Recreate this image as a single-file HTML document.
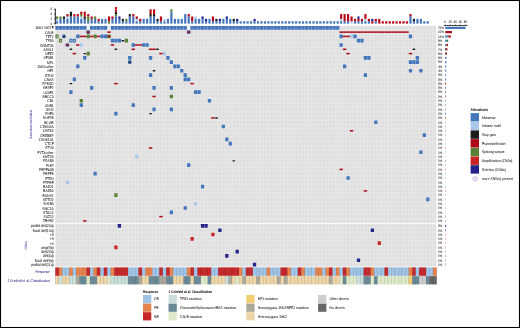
<!DOCTYPE html><html><head><meta charset="utf-8"><style>html,body{margin:0;padding:0;background:#fff;}svg{display:block;will-change:transform;font-family:"Liberation Sans",sans-serif;}</style></head><body><svg width="520" height="328" viewBox="0 0 520 328" text-rendering="geometricPrecision"><rect x="0" y="0" width="520" height="328" fill="#fff"/><defs><pattern id="gp" x="55.3" y="25.7" width="3.465" height="4.29" patternUnits="userSpaceOnUse"><rect width="3.465" height="4.29" fill="#ebebeb"/><rect x="0.4" y="0.4" width="2.67" height="3.49" fill="#dedede"/></pattern><pattern id="gp2" x="55.3" y="26.45" width="3.465" height="4.29" patternUnits="userSpaceOnUse"><rect width="3.465" height="4.29" fill="#ebebeb"/><rect x="0.4" y="0.4" width="2.67" height="3.49" fill="#dedede"/></pattern><pattern id="rp" x="55.3" y="0" width="3.465" height="20" patternUnits="userSpaceOnUse"><rect width="3.465" height="20" fill="#fff" fill-opacity="0.25"/><rect x="0.2" width="3.06" height="20" fill="#000" fill-opacity="0"/></pattern></defs><rect x="55.3" y="25.7" width="381.15" height="197.34" fill="url(#gp)"/><rect x="55.3" y="223.79" width="381.15" height="42.9" fill="url(#gp2)"/><rect x="86.69" y="25.9" width="3.06" height="3.89" fill="#f0f0f0"/><rect x="107.47" y="25.9" width="3.06" height="3.89" fill="#f0f0f0"/><rect x="187.17" y="25.9" width="3.06" height="3.89" fill="#f0f0f0"/><rect x="55.4" y="26" width="3.26" height="3.69" rx="0.15" fill="#4376bb"/><rect x="58.87" y="26" width="3.26" height="3.69" rx="0.15" fill="#4376bb"/><rect x="62.33" y="26" width="3.26" height="3.69" rx="0.15" fill="#4376bb"/><rect x="65.79" y="26" width="3.26" height="3.69" rx="0.15" fill="#4376bb"/><rect x="69.26" y="26" width="3.26" height="3.69" rx="0.15" fill="#4376bb"/><rect x="72.72" y="26" width="3.26" height="3.69" rx="0.15" fill="#4376bb"/><rect x="76.19" y="26" width="3.26" height="3.69" rx="0.15" fill="#4376bb"/><rect x="79.65" y="26" width="3.26" height="3.69" rx="0.15" fill="#4376bb"/><rect x="83.12" y="26" width="3.26" height="3.69" rx="0.15" fill="#4376bb"/><rect x="90.05" y="26" width="3.26" height="3.69" rx="0.15" fill="#4376bb"/><rect x="93.51" y="26" width="3.26" height="3.69" rx="0.15" fill="#4376bb"/><rect x="96.98" y="26" width="3.26" height="3.69" rx="0.15" fill="#4376bb"/><rect x="100.44" y="26" width="3.26" height="3.69" rx="0.15" fill="#4376bb"/><rect x="103.91" y="26" width="3.26" height="3.69" rx="0.15" fill="#4376bb"/><rect x="110.84" y="26" width="3.26" height="3.69" rx="0.15" fill="#4376bb"/><rect x="114.3" y="26" width="3.26" height="3.69" rx="0.15" fill="#4376bb"/><rect x="117.77" y="26" width="3.26" height="3.69" rx="0.15" fill="#4376bb"/><rect x="121.23" y="26" width="3.26" height="3.69" rx="0.15" fill="#4376bb"/><rect x="124.7" y="26" width="3.26" height="3.69" rx="0.15" fill="#4376bb"/><rect x="128.16" y="26" width="3.26" height="3.69" rx="0.15" fill="#4376bb"/><rect x="131.63" y="26" width="3.26" height="3.69" rx="0.15" fill="#4376bb"/><rect x="135.09" y="26" width="3.26" height="3.69" rx="0.15" fill="#4376bb"/><rect x="138.56" y="26" width="3.26" height="3.69" rx="0.15" fill="#4376bb"/><rect x="142.03" y="26" width="3.26" height="3.69" rx="0.15" fill="#4376bb"/><rect x="145.49" y="26" width="3.26" height="3.69" rx="0.15" fill="#4376bb"/><rect x="148.95" y="26" width="3.26" height="3.69" rx="0.15" fill="#4376bb"/><rect x="152.42" y="26" width="3.26" height="3.69" rx="0.15" fill="#4376bb"/><rect x="155.88" y="26" width="3.26" height="3.69" rx="0.15" fill="#4376bb"/><rect x="159.35" y="26" width="3.26" height="3.69" rx="0.15" fill="#4376bb"/><rect x="162.81" y="26" width="3.26" height="3.69" rx="0.15" fill="#4376bb"/><rect x="166.28" y="26" width="3.26" height="3.69" rx="0.15" fill="#4376bb"/><rect x="169.74" y="26" width="3.26" height="3.69" rx="0.15" fill="#4376bb"/><rect x="173.21" y="26" width="3.26" height="3.69" rx="0.15" fill="#4376bb"/><rect x="176.67" y="26" width="3.26" height="3.69" rx="0.15" fill="#4376bb"/><rect x="180.14" y="26" width="3.26" height="3.69" rx="0.15" fill="#4376bb"/><rect x="183.6" y="26" width="3.26" height="3.69" rx="0.15" fill="#4376bb"/><rect x="190.53" y="26" width="3.26" height="3.69" rx="0.15" fill="#4376bb"/><rect x="194" y="26" width="3.26" height="3.69" rx="0.15" fill="#4376bb"/><rect x="197.47" y="26" width="3.26" height="3.69" rx="0.15" fill="#4376bb"/><rect x="200.93" y="26" width="3.26" height="3.69" rx="0.15" fill="#4376bb"/><rect x="204.4" y="26" width="3.26" height="3.69" rx="0.15" fill="#4376bb"/><rect x="207.86" y="26" width="3.26" height="3.69" rx="0.15" fill="#4376bb"/><rect x="211.32" y="26" width="3.26" height="3.69" rx="0.15" fill="#4376bb"/><rect x="214.79" y="26" width="3.26" height="3.69" rx="0.15" fill="#4376bb"/><rect x="218.25" y="26" width="3.26" height="3.69" rx="0.15" fill="#4376bb"/><rect x="221.72" y="26" width="3.26" height="3.69" rx="0.15" fill="#4376bb"/><rect x="225.18" y="26" width="3.26" height="3.69" rx="0.15" fill="#4376bb"/><rect x="228.65" y="26" width="3.26" height="3.69" rx="0.15" fill="#4376bb"/><rect x="232.11" y="26" width="3.26" height="3.69" rx="0.15" fill="#4376bb"/><rect x="235.58" y="26" width="3.26" height="3.69" rx="0.15" fill="#4376bb"/><rect x="239.04" y="26" width="3.26" height="3.69" rx="0.15" fill="#4376bb"/><rect x="242.51" y="26" width="3.26" height="3.69" rx="0.15" fill="#4376bb"/><rect x="245.97" y="26" width="3.26" height="3.69" rx="0.15" fill="#4376bb"/><rect x="249.44" y="26" width="3.26" height="3.69" rx="0.15" fill="#4376bb"/><rect x="252.91" y="26" width="3.26" height="3.69" rx="0.15" fill="#4376bb"/><rect x="256.37" y="26" width="3.26" height="3.69" rx="0.15" fill="#4376bb"/><rect x="259.84" y="26" width="3.26" height="3.69" rx="0.15" fill="#4376bb"/><rect x="263.3" y="26" width="3.26" height="3.69" rx="0.15" fill="#4376bb"/><rect x="266.76" y="26" width="3.26" height="3.69" rx="0.15" fill="#4376bb"/><rect x="270.23" y="26" width="3.26" height="3.69" rx="0.15" fill="#4376bb"/><rect x="273.69" y="26" width="3.26" height="3.69" rx="0.15" fill="#4376bb"/><rect x="277.16" y="26" width="3.26" height="3.69" rx="0.15" fill="#4376bb"/><rect x="280.62" y="26" width="3.26" height="3.69" rx="0.15" fill="#4376bb"/><rect x="284.09" y="26" width="3.26" height="3.69" rx="0.15" fill="#4376bb"/><rect x="287.56" y="26" width="3.26" height="3.69" rx="0.15" fill="#4376bb"/><rect x="291.02" y="26" width="3.26" height="3.69" rx="0.15" fill="#4376bb"/><rect x="294.49" y="26" width="3.26" height="3.69" rx="0.15" fill="#4376bb"/><rect x="297.95" y="26" width="3.26" height="3.69" rx="0.15" fill="#4376bb"/><rect x="301.42" y="26" width="3.26" height="3.69" rx="0.15" fill="#4376bb"/><rect x="304.88" y="26" width="3.26" height="3.69" rx="0.15" fill="#4376bb"/><rect x="308.35" y="26" width="3.26" height="3.69" rx="0.15" fill="#4376bb"/><rect x="311.81" y="26" width="3.26" height="3.69" rx="0.15" fill="#4376bb"/><rect x="315.28" y="26" width="3.26" height="3.69" rx="0.15" fill="#4376bb"/><rect x="318.74" y="26" width="3.26" height="3.69" rx="0.15" fill="#4376bb"/><rect x="322.21" y="26" width="3.26" height="3.69" rx="0.15" fill="#4376bb"/><rect x="325.67" y="26" width="3.26" height="3.69" rx="0.15" fill="#4376bb"/><rect x="329.14" y="26" width="3.26" height="3.69" rx="0.15" fill="#4376bb"/><rect x="332.6" y="26" width="3.26" height="3.69" rx="0.15" fill="#4376bb"/><rect x="336.06" y="26" width="3.26" height="3.69" rx="0.15" fill="#4376bb"/><rect x="86.58" y="30.29" width="3.26" height="3.69" rx="0.15" fill="#4376bb"/><rect x="86.48" y="31.38" width="3.46" height="1.5" fill="#ad0a18"/><rect x="107.27" y="31.38" width="3.46" height="1.5" fill="#ad0a18"/><rect x="187.07" y="30.29" width="3.26" height="3.69" rx="0.15" fill="#4376bb"/><rect x="186.97" y="31.38" width="3.46" height="1.5" fill="#ad0a18"/><rect x="339.43" y="31.38" width="3.46" height="1.5" fill="#ad0a18"/><rect x="342.89" y="31.38" width="3.46" height="1.5" fill="#ad0a18"/><rect x="346.36" y="31.38" width="3.46" height="1.5" fill="#ad0a18"/><rect x="349.82" y="31.38" width="3.46" height="1.5" fill="#ad0a18"/><rect x="353.29" y="31.38" width="3.46" height="1.5" fill="#ad0a18"/><rect x="356.75" y="31.38" width="3.46" height="1.5" fill="#ad0a18"/><rect x="360.22" y="31.38" width="3.46" height="1.5" fill="#ad0a18"/><rect x="363.69" y="31.38" width="3.46" height="1.5" fill="#ad0a18"/><rect x="367.15" y="31.38" width="3.46" height="1.5" fill="#ad0a18"/><rect x="370.62" y="31.38" width="3.46" height="1.5" fill="#ad0a18"/><rect x="374.08" y="31.38" width="3.46" height="1.5" fill="#ad0a18"/><rect x="377.55" y="31.38" width="3.46" height="1.5" fill="#ad0a18"/><rect x="381.01" y="31.38" width="3.46" height="1.5" fill="#ad0a18"/><rect x="384.48" y="31.38" width="3.46" height="1.5" fill="#ad0a18"/><rect x="387.94" y="31.38" width="3.46" height="1.5" fill="#ad0a18"/><rect x="391.4" y="31.38" width="3.46" height="1.5" fill="#ad0a18"/><rect x="394.87" y="31.38" width="3.46" height="1.5" fill="#ad0a18"/><rect x="398.33" y="31.38" width="3.46" height="1.5" fill="#ad0a18"/><rect x="401.8" y="31.38" width="3.46" height="1.5" fill="#ad0a18"/><rect x="405.26" y="31.38" width="3.46" height="1.5" fill="#ad0a18"/><rect x="55.4" y="34.58" width="3.26" height="3.69" rx="0.15" fill="#5b7f34"/><circle cx="57.03" cy="36.43" r="0.75" fill="#cfc8d8"/><rect x="62.33" y="34.58" width="3.26" height="3.69" rx="0.15" fill="#4376bb"/><rect x="62.53" y="35.73" width="2.86" height="1.4" rx="0.7" fill="#1c1c1c"/><rect x="76.19" y="34.58" width="3.26" height="3.69" rx="0.15" fill="#4376bb"/><rect x="79.55" y="35.68" width="3.46" height="1.5" fill="#ad0a18"/><rect x="83.02" y="35.68" width="3.46" height="1.5" fill="#ad0a18"/><rect x="86.58" y="34.58" width="3.26" height="3.69" rx="0.15" fill="#5b7f34"/><rect x="89.95" y="35.68" width="3.46" height="1.5" fill="#ad0a18"/><rect x="93.51" y="34.58" width="3.26" height="3.69" rx="0.15" fill="#5b7f34"/><rect x="96.88" y="35.68" width="3.46" height="1.5" fill="#ad0a18"/><rect x="100.44" y="34.58" width="3.26" height="3.69" rx="0.15" fill="#4376bb"/><rect x="103.91" y="34.58" width="3.26" height="3.69" rx="0.15" fill="#4376bb"/><rect x="107.37" y="34.58" width="3.26" height="3.69" rx="0.15" fill="#5b7f34"/><rect x="107.27" y="35.68" width="3.46" height="1.5" fill="#ad0a18"/><rect x="339.53" y="34.58" width="3.26" height="3.69" rx="0.15" fill="#4376bb"/><rect x="342.89" y="35.68" width="3.46" height="1.5" fill="#ad0a18"/><rect x="346.36" y="35.68" width="3.46" height="1.5" fill="#ad0a18"/><rect x="349.93" y="34.58" width="3.26" height="3.69" rx="0.15" fill="#a9c7e8"/><rect x="353.39" y="34.58" width="3.26" height="3.69" rx="0.15" fill="#4376bb"/><rect x="408.83" y="34.58" width="3.26" height="3.69" rx="0.15" fill="#4376bb"/><rect x="58.87" y="38.87" width="3.26" height="3.69" rx="0.15" fill="#5b7f34"/><circle cx="60.5" cy="40.72" r="0.75" fill="#cfc8d8"/><rect x="69.26" y="38.87" width="3.26" height="3.69" rx="0.15" fill="#4376bb"/><circle cx="70.89" cy="40.72" r="0.75" fill="#cfc8d8"/><rect x="72.72" y="38.87" width="3.26" height="3.69" rx="0.15" fill="#4376bb"/><circle cx="74.36" cy="40.72" r="0.75" fill="#cfc8d8"/><rect x="110.84" y="38.87" width="3.26" height="3.69" rx="0.15" fill="#4376bb"/><rect x="114.3" y="38.87" width="3.26" height="3.69" rx="0.15" fill="#4376bb"/><rect x="117.77" y="38.87" width="3.26" height="3.69" rx="0.15" fill="#4376bb"/><rect x="121.43" y="40.02" width="2.86" height="1.4" rx="0.7" fill="#1c1c1c"/><rect x="124.7" y="38.87" width="3.26" height="3.69" rx="0.15" fill="#5b7f34"/><rect x="356.86" y="38.87" width="3.26" height="3.69" rx="0.15" fill="#4376bb"/><rect x="360.32" y="38.87" width="3.26" height="3.69" rx="0.15" fill="#4376bb"/><rect x="65.79" y="43.16" width="3.26" height="3.69" rx="0.15" fill="#4376bb"/><rect x="65.69" y="44.26" width="3.46" height="1.5" fill="#ad0a18"/><rect x="76.09" y="44.26" width="3.46" height="1.5" fill="#ad0a18"/><rect x="79.65" y="43.16" width="3.26" height="3.69" rx="0.15" fill="#a9c7e8"/><rect x="110.74" y="44.26" width="3.46" height="1.5" fill="#ad0a18"/><rect x="131.63" y="43.16" width="3.26" height="3.69" rx="0.15" fill="#4376bb"/><rect x="135" y="44.26" width="3.46" height="1.5" fill="#ad0a18"/><rect x="138.46" y="44.26" width="3.46" height="1.5" fill="#ad0a18"/><rect x="142.03" y="43.16" width="3.26" height="3.69" rx="0.15" fill="#4376bb"/><rect x="145.49" y="43.16" width="3.26" height="3.69" rx="0.15" fill="#4376bb"/><rect x="339.53" y="43.16" width="3.26" height="3.69" rx="0.15" fill="#4376bb"/><rect x="69.46" y="48.59" width="2.86" height="1.4" rx="0.7" fill="#1c1c1c"/><rect x="114.5" y="48.59" width="2.86" height="1.4" rx="0.7" fill="#1c1c1c"/><rect x="131.53" y="48.55" width="3.46" height="1.5" fill="#ad0a18"/><rect x="148.85" y="48.55" width="3.46" height="1.5" fill="#ad0a18"/><rect x="152.32" y="48.55" width="3.46" height="1.5" fill="#ad0a18"/><rect x="156.09" y="48.59" width="2.86" height="1.4" rx="0.7" fill="#1c1c1c"/><rect x="342.89" y="48.55" width="3.46" height="1.5" fill="#ad0a18"/><rect x="412.5" y="48.59" width="2.86" height="1.4" rx="0.7" fill="#1c1c1c"/><rect x="72.62" y="52.84" width="3.46" height="1.5" fill="#ad0a18"/><rect x="83.32" y="52.88" width="2.86" height="1.4" rx="0.7" fill="#1c1c1c"/><rect x="86.58" y="51.74" width="3.26" height="3.69" rx="0.15" fill="#5b7f34"/><rect x="159.25" y="52.84" width="3.46" height="1.5" fill="#ad0a18"/><rect x="162.81" y="51.74" width="3.26" height="3.69" rx="0.15" fill="#a9c7e8"/><rect x="346.36" y="52.84" width="3.46" height="1.5" fill="#ad0a18"/><rect x="408.73" y="52.84" width="3.46" height="1.5" fill="#ad0a18"/><rect x="83.12" y="56.03" width="3.26" height="3.69" rx="0.15" fill="#4376bb"/><rect x="128.16" y="56.03" width="3.26" height="3.69" rx="0.15" fill="#4376bb"/><rect x="148.95" y="56.03" width="3.26" height="3.69" rx="0.15" fill="#4376bb"/><rect x="166.28" y="56.03" width="3.26" height="3.69" rx="0.15" fill="#4376bb"/><rect x="363.79" y="56.03" width="3.26" height="3.69" rx="0.15" fill="#4376bb"/><rect x="367.25" y="56.03" width="3.26" height="3.69" rx="0.15" fill="#4376bb"/><rect x="415.76" y="56.03" width="3.26" height="3.69" rx="0.15" fill="#4376bb"/><rect x="128.16" y="60.32" width="3.26" height="3.69" rx="0.15" fill="#4376bb"/><rect x="128.37" y="61.46" width="2.86" height="1.4" rx="0.7" fill="#1c1c1c"/><rect x="169.74" y="60.32" width="3.26" height="3.69" rx="0.15" fill="#4376bb"/><rect x="408.83" y="60.32" width="3.26" height="3.69" rx="0.15" fill="#4376bb"/><rect x="412.3" y="60.32" width="3.26" height="3.69" rx="0.15" fill="#4376bb"/><rect x="415.76" y="60.32" width="3.26" height="3.69" rx="0.15" fill="#4376bb"/><rect x="76.19" y="64.61" width="3.26" height="3.69" rx="0.15" fill="#4376bb"/><rect x="173.21" y="64.61" width="3.26" height="3.69" rx="0.15" fill="#4376bb"/><rect x="176.67" y="64.61" width="3.26" height="3.69" rx="0.15" fill="#4376bb"/><rect x="343" y="64.61" width="3.26" height="3.69" rx="0.15" fill="#4376bb"/><rect x="152.62" y="70.04" width="2.86" height="1.4" rx="0.7" fill="#1c1c1c"/><rect x="180.14" y="68.9" width="3.26" height="3.69" rx="0.15" fill="#4376bb"/><rect x="408.83" y="68.9" width="3.26" height="3.69" rx="0.15" fill="#4376bb"/><rect x="419.23" y="68.9" width="3.26" height="3.69" rx="0.15" fill="#4376bb"/><rect x="148.95" y="73.19" width="3.26" height="3.69" rx="0.15" fill="#4376bb"/><rect x="183.6" y="73.19" width="3.26" height="3.69" rx="0.15" fill="#4376bb"/><rect x="363.79" y="73.19" width="3.26" height="3.69" rx="0.15" fill="#4376bb"/><rect x="72.72" y="77.48" width="3.26" height="3.69" rx="0.15" fill="#4376bb"/><rect x="183.6" y="77.48" width="3.26" height="3.69" rx="0.15" fill="#4376bb"/><rect x="187.07" y="77.48" width="3.26" height="3.69" rx="0.15" fill="#4376bb"/><rect x="69.46" y="82.91" width="2.86" height="1.4" rx="0.7" fill="#1c1c1c"/><rect x="114.2" y="82.86" width="3.46" height="1.5" fill="#ad0a18"/><rect x="190.44" y="82.86" width="3.46" height="1.5" fill="#ad0a18"/><rect x="90.05" y="86.06" width="3.26" height="3.69" rx="0.15" fill="#4376bb"/><rect x="152.42" y="86.06" width="3.26" height="3.69" rx="0.15" fill="#4376bb"/><rect x="169.74" y="86.06" width="3.26" height="3.69" rx="0.15" fill="#4376bb"/><rect x="69.26" y="90.35" width="3.26" height="3.69" rx="0.15" fill="#4376bb"/><rect x="194" y="90.35" width="3.26" height="3.69" rx="0.15" fill="#4376bb"/><rect x="197.47" y="90.35" width="3.26" height="3.69" rx="0.15" fill="#4376bb"/><rect x="152.32" y="95.73" width="3.46" height="1.5" fill="#ad0a18"/><rect x="169.74" y="94.64" width="3.26" height="3.69" rx="0.15" fill="#5b7f34"/><rect x="79.65" y="98.93" width="3.26" height="3.69" rx="0.15" fill="#5b7f34"/><rect x="207.86" y="98.93" width="3.26" height="3.69" rx="0.15" fill="#4376bb"/><rect x="79.65" y="103.22" width="3.26" height="3.69" rx="0.15" fill="#4376bb"/><rect x="131.63" y="103.22" width="3.26" height="3.69" rx="0.15" fill="#4376bb"/><rect x="152.42" y="107.51" width="3.26" height="3.69" rx="0.15" fill="#4376bb"/><rect x="169.74" y="107.51" width="3.26" height="3.69" rx="0.15" fill="#4376bb"/><rect x="114.3" y="111.8" width="3.26" height="3.69" rx="0.15" fill="#4376bb"/><rect x="149.16" y="112.94" width="2.86" height="1.4" rx="0.7" fill="#1c1c1c"/><rect x="211.22" y="117.19" width="3.46" height="1.5" fill="#ad0a18"/><rect x="214.99" y="117.23" width="2.86" height="1.4" rx="0.7" fill="#1c1c1c"/><rect x="374.18" y="120.38" width="3.26" height="3.69" rx="0.15" fill="#4376bb"/><rect x="221.72" y="124.67" width="3.26" height="3.69" rx="0.15" fill="#4376bb"/><rect x="349.82" y="130.06" width="3.46" height="1.5" fill="#ad0a18"/><rect x="422.69" y="133.25" width="3.26" height="3.69" rx="0.15" fill="#4376bb"/><rect x="225.18" y="137.54" width="3.26" height="3.69" rx="0.15" fill="#4376bb"/><rect x="228.65" y="141.83" width="3.26" height="3.69" rx="0.15" fill="#4376bb"/><rect x="148.85" y="147.22" width="3.46" height="1.5" fill="#ad0a18"/><rect x="419.23" y="150.41" width="3.26" height="3.69" rx="0.15" fill="#4376bb"/><rect x="135.09" y="154.7" width="3.26" height="3.69" rx="0.15" fill="#a9c7e8"/><rect x="232.31" y="160.14" width="2.86" height="1.4" rx="0.7" fill="#1c1c1c"/><rect x="187.07" y="163.28" width="3.26" height="3.69" rx="0.15" fill="#4376bb"/><rect x="339.43" y="168.66" width="3.46" height="1.5" fill="#ad0a18"/><rect x="93.51" y="171.86" width="3.26" height="3.69" rx="0.15" fill="#4376bb"/><rect x="346.46" y="176.15" width="3.26" height="3.69" rx="0.15" fill="#4376bb"/><rect x="65.79" y="180.44" width="3.26" height="3.69" rx="0.15" fill="#a9c7e8"/><rect x="200.93" y="184.73" width="3.26" height="3.69" rx="0.15" fill="#4376bb"/><rect x="363.69" y="190.12" width="3.46" height="1.5" fill="#ad0a18"/><rect x="114.3" y="193.31" width="3.26" height="3.69" rx="0.15" fill="#5b7f34"/><rect x="426.16" y="197.6" width="3.26" height="3.69" rx="0.15" fill="#4376bb"/><rect x="194" y="201.89" width="3.26" height="3.69" rx="0.15" fill="#a9c7e8"/><rect x="183.6" y="206.18" width="3.26" height="3.69" rx="0.15" fill="#4376bb"/><rect x="169.74" y="210.47" width="3.26" height="3.69" rx="0.15" fill="#4376bb"/><rect x="159.25" y="215.85" width="3.46" height="1.5" fill="#ad0a18"/><rect x="83.02" y="220.15" width="3.46" height="1.5" fill="#ad0a18"/><rect x="117.77" y="224.09" width="3.26" height="3.69" rx="0.15" fill="#23238a"/><rect x="200.93" y="224.09" width="3.26" height="3.69" rx="0.15" fill="#23238a"/><rect x="204.4" y="224.09" width="3.26" height="3.69" rx="0.15" fill="#23238a"/><rect x="218.25" y="228.38" width="3.26" height="3.69" rx="0.15" fill="#23238a"/><rect x="370.72" y="228.38" width="3.26" height="3.69" rx="0.15" fill="#23238a"/><rect x="211.32" y="232.67" width="3.26" height="3.69" rx="0.15" fill="#c82424"/><rect x="190.53" y="236.96" width="3.26" height="3.69" rx="0.15" fill="#c82424"/><rect x="377.65" y="241.25" width="3.26" height="3.69" rx="0.15" fill="#c82424"/><rect x="114.3" y="245.54" width="3.26" height="3.69" rx="0.15" fill="#c82424"/><rect x="235.58" y="249.83" width="3.26" height="3.69" rx="0.15" fill="#23238a"/><rect x="225.18" y="254.12" width="3.26" height="3.69" rx="0.15" fill="#23238a"/><rect x="356.86" y="258.41" width="3.26" height="3.69" rx="0.15" fill="#23238a"/><rect x="252.91" y="262.7" width="3.26" height="3.69" rx="0.15" fill="#23238a"/><text transform="translate(53.7,29.34) scale(0.1,0.118)" font-size="33" text-anchor="end" fill="#111" stroke="#111" stroke-width="0.3">JAK2 V617F</text><text transform="translate(53.7,33.63) scale(0.1,0.118)" font-size="33" text-anchor="end" fill="#111" stroke="#111" stroke-width="0.3">CALR</text><text transform="translate(53.7,37.93) scale(0.1,0.118)" font-size="33" text-anchor="end" fill="#111" stroke="#111" stroke-width="0.3">TET2</text><text transform="translate(53.7,42.22) scale(0.1,0.118)" font-size="33" text-anchor="end" fill="#111" stroke="#111" stroke-width="0.3">TP53</text><text transform="translate(53.7,46.51) scale(0.1,0.118)" font-size="33" text-anchor="end" fill="#111" stroke="#111" stroke-width="0.3">DNMT3A</text><text transform="translate(53.7,50.8) scale(0.1,0.118)" font-size="33" text-anchor="end" fill="#111" stroke="#111" stroke-width="0.3">ASXL1</text><text transform="translate(53.7,55.09) scale(0.1,0.118)" font-size="33" text-anchor="end" fill="#111" stroke="#111" stroke-width="0.3">NFE2</text><text transform="translate(53.7,59.38) scale(0.1,0.118)" font-size="33" text-anchor="end" fill="#111" stroke="#111" stroke-width="0.3">SF3B1</text><text transform="translate(53.7,63.66) scale(0.1,0.118)" font-size="33" text-anchor="end" fill="#111" stroke="#111" stroke-width="0.3">MPL</text><text transform="translate(53.7,67.95) scale(0.1,0.118)" font-size="33" text-anchor="end" fill="#111" stroke="#111" stroke-width="0.3">JAK2-other</text><text transform="translate(53.7,72.24) scale(0.1,0.118)" font-size="33" text-anchor="end" fill="#111" stroke="#111" stroke-width="0.3">NF1</text><text transform="translate(53.7,76.53) scale(0.1,0.118)" font-size="33" text-anchor="end" fill="#111" stroke="#111" stroke-width="0.3">EZH2</text><text transform="translate(53.7,80.83) scale(0.1,0.118)" font-size="33" text-anchor="end" fill="#111" stroke="#111" stroke-width="0.3">GNAS</text><text transform="translate(53.7,85.11) scale(0.1,0.118)" font-size="33" text-anchor="end" fill="#111" stroke="#111" stroke-width="0.3">PPM1D</text><text transform="translate(53.7,89.41) scale(0.1,0.118)" font-size="33" text-anchor="end" fill="#111" stroke="#111" stroke-width="0.3">SRSF2</text><text transform="translate(53.7,93.69) scale(0.1,0.118)" font-size="33" text-anchor="end" fill="#111" stroke="#111" stroke-width="0.3">U2AF1</text><text transform="translate(53.7,97.98) scale(0.1,0.118)" font-size="33" text-anchor="end" fill="#111" stroke="#111" stroke-width="0.3">BRCC3</text><text transform="translate(53.7,102.28) scale(0.1,0.118)" font-size="33" text-anchor="end" fill="#111" stroke="#111" stroke-width="0.3">CBL</text><text transform="translate(53.7,106.56) scale(0.1,0.118)" font-size="33" text-anchor="end" fill="#111" stroke="#111" stroke-width="0.3">GNB1</text><text transform="translate(53.7,110.86) scale(0.1,0.118)" font-size="33" text-anchor="end" fill="#111" stroke="#111" stroke-width="0.3">IDH2</text><text transform="translate(53.7,115.14) scale(0.1,0.118)" font-size="33" text-anchor="end" fill="#111" stroke="#111" stroke-width="0.3">PHF6</text><text transform="translate(53.7,119.44) scale(0.1,0.118)" font-size="33" text-anchor="end" fill="#111" stroke="#111" stroke-width="0.3">NUP98</text><text transform="translate(53.7,123.72) scale(0.1,0.118)" font-size="33" text-anchor="end" fill="#111" stroke="#111" stroke-width="0.3">BCOR</text><text transform="translate(53.7,128.01) scale(0.1,0.118)" font-size="33" text-anchor="end" fill="#111" stroke="#111" stroke-width="0.3">CDKN2A</text><text transform="translate(53.7,132.31) scale(0.1,0.118)" font-size="33" text-anchor="end" fill="#111" stroke="#111" stroke-width="0.3">CHEK2</text><text transform="translate(53.7,136.59) scale(0.1,0.118)" font-size="33" text-anchor="end" fill="#111" stroke="#111" stroke-width="0.3">CREBBP</text><text transform="translate(53.7,140.89) scale(0.1,0.118)" font-size="33" text-anchor="end" fill="#111" stroke="#111" stroke-width="0.3">CSNK1A1</text><text transform="translate(53.7,145.18) scale(0.1,0.118)" font-size="33" text-anchor="end" fill="#111" stroke="#111" stroke-width="0.3">CTCF</text><text transform="translate(53.7,149.47) scale(0.1,0.118)" font-size="33" text-anchor="end" fill="#111" stroke="#111" stroke-width="0.3">ETV6</text><text transform="translate(53.7,153.75) scale(0.1,0.118)" font-size="33" text-anchor="end" fill="#111" stroke="#111" stroke-width="0.3">FLT3-other</text><text transform="translate(53.7,158.04) scale(0.1,0.118)" font-size="33" text-anchor="end" fill="#111" stroke="#111" stroke-width="0.3">KMT2A</text><text transform="translate(53.7,162.34) scale(0.1,0.118)" font-size="33" text-anchor="end" fill="#111" stroke="#111" stroke-width="0.3">PDS5B</text><text transform="translate(53.7,166.62) scale(0.1,0.118)" font-size="33" text-anchor="end" fill="#111" stroke="#111" stroke-width="0.3">PHIP</text><text transform="translate(53.7,170.91) scale(0.1,0.118)" font-size="33" text-anchor="end" fill="#111" stroke="#111" stroke-width="0.3">PRPF40B</text><text transform="translate(53.7,175.21) scale(0.1,0.118)" font-size="33" text-anchor="end" fill="#111" stroke="#111" stroke-width="0.3">PRPF8</text><text transform="translate(53.7,179.5) scale(0.1,0.118)" font-size="33" text-anchor="end" fill="#111" stroke="#111" stroke-width="0.3">PTEN</text><text transform="translate(53.7,183.78) scale(0.1,0.118)" font-size="33" text-anchor="end" fill="#111" stroke="#111" stroke-width="0.3">PTPRF</text><text transform="translate(53.7,188.07) scale(0.1,0.118)" font-size="33" text-anchor="end" fill="#111" stroke="#111" stroke-width="0.3">RAD21</text><text transform="translate(53.7,192.37) scale(0.1,0.118)" font-size="33" text-anchor="end" fill="#111" stroke="#111" stroke-width="0.3">RAD50</text><text transform="translate(53.7,196.66) scale(0.1,0.118)" font-size="33" text-anchor="end" fill="#111" stroke="#111" stroke-width="0.3">RUNX1</text><text transform="translate(53.7,200.94) scale(0.1,0.118)" font-size="33" text-anchor="end" fill="#111" stroke="#111" stroke-width="0.3">SETD2</text><text transform="translate(53.7,205.24) scale(0.1,0.118)" font-size="33" text-anchor="end" fill="#111" stroke="#111" stroke-width="0.3">SH2B3</text><text transform="translate(53.7,209.53) scale(0.1,0.118)" font-size="33" text-anchor="end" fill="#111" stroke="#111" stroke-width="0.3">SMC1A</text><text transform="translate(53.7,213.81) scale(0.1,0.118)" font-size="33" text-anchor="end" fill="#111" stroke="#111" stroke-width="0.3">STAG2</text><text transform="translate(53.7,218.1) scale(0.1,0.118)" font-size="33" text-anchor="end" fill="#111" stroke="#111" stroke-width="0.3">SUZ12</text><text transform="translate(53.7,222.4) scale(0.1,0.118)" font-size="33" text-anchor="end" fill="#111" stroke="#111" stroke-width="0.3">ZRSR2</text><text transform="translate(53.7,227.44) scale(0.1,0.118)" font-size="34.2" text-anchor="end" fill="#111" stroke="#111" stroke-width="0.3">partial del(20q)</text><text transform="translate(53.7,231.72) scale(0.1,0.118)" font-size="34.2" text-anchor="end" fill="#111" stroke="#111" stroke-width="0.3">focal del(13q)</text><text transform="translate(53.7,236.02) scale(0.1,0.118)" font-size="34.2" text-anchor="end" fill="#111" stroke="#111" stroke-width="0.3">+8</text><text transform="translate(53.7,240.31) scale(0.1,0.118)" font-size="34.2" text-anchor="end" fill="#111" stroke="#111" stroke-width="0.3">+9</text><text transform="translate(53.7,244.59) scale(0.1,0.118)" font-size="34.2" text-anchor="end" fill="#111" stroke="#111" stroke-width="0.3">+X</text><text transform="translate(53.7,248.88) scale(0.1,0.118)" font-size="34.2" text-anchor="end" fill="#111" stroke="#111" stroke-width="0.3">amp(9p)</text><text transform="translate(53.7,253.18) scale(0.1,0.118)" font-size="34.2" text-anchor="end" fill="#111" stroke="#111" stroke-width="0.3">del(20q)</text><text transform="translate(53.7,257.47) scale(0.1,0.118)" font-size="34.2" text-anchor="end" fill="#111" stroke="#111" stroke-width="0.3">del(5q)</text><text transform="translate(53.7,261.75) scale(0.1,0.118)" font-size="34.2" text-anchor="end" fill="#111" stroke="#111" stroke-width="0.3">focal del(9p)</text><text transform="translate(53.7,266.04) scale(0.1,0.118)" font-size="34.2" text-anchor="end" fill="#111" stroke="#111" stroke-width="0.3">partial del(11q)</text><text transform="translate(437.9,29.14) scale(0.1,0.118)" font-size="31" fill="#111" stroke="#111" stroke-width="0.3">72%</text><rect x="445.2" y="26.74" width="20.41" height="2.2" fill="#4376bb"/><text transform="translate(437.9,33.43) scale(0.1,0.118)" font-size="31" fill="#111" stroke="#111" stroke-width="0.3">21%</text><rect x="445.2" y="31.03" width="0.25" height="2.2" fill="#23238a"/><rect x="445.45" y="31.03" width="6.55" height="2.2" fill="#ad0a18"/><text transform="translate(437.9,37.73) scale(0.1,0.118)" font-size="31" fill="#111" stroke="#111" stroke-width="0.3">14%</text><rect x="445.2" y="35.33" width="2.27" height="2.2" fill="#4376bb"/><rect x="447.47" y="35.33" width="1.01" height="2.2" fill="#5b7f34"/><rect x="448.48" y="35.33" width="2.27" height="2.2" fill="#ad0a18"/><text transform="translate(437.9,42.02) scale(0.1,0.118)" font-size="31" fill="#111" stroke="#111" stroke-width="0.3">9%</text><rect x="445.2" y="39.62" width="1.76" height="2.2" fill="#4376bb"/><rect x="446.96" y="39.62" width="1.26" height="2.2" fill="#5b7f34"/><text transform="translate(437.9,46.3) scale(0.1,0.118)" font-size="31" fill="#111" stroke="#111" stroke-width="0.3">9%</text><rect x="445.2" y="43.91" width="1.26" height="2.2" fill="#4376bb"/><rect x="446.46" y="43.91" width="1.51" height="2.2" fill="#ad0a18"/><text transform="translate(437.9,50.59) scale(0.1,0.118)" font-size="31" fill="#111" stroke="#111" stroke-width="0.3">7%</text><rect x="445.2" y="48.2" width="1.01" height="2.2" fill="#1c1c1c"/><rect x="446.21" y="48.2" width="1.26" height="2.2" fill="#ad0a18"/><text transform="translate(437.9,54.88) scale(0.1,0.118)" font-size="31" fill="#111" stroke="#111" stroke-width="0.3">6%</text><rect x="445.2" y="52.48" width="1.01" height="2.2" fill="#ad0a18"/><rect x="446.21" y="52.48" width="0.76" height="2.2" fill="#1c1c1c"/><text transform="translate(437.9,59.18) scale(0.1,0.118)" font-size="31" fill="#111" stroke="#111" stroke-width="0.3">6%</text><rect x="445.2" y="56.78" width="1.26" height="2.2" fill="#4376bb"/><text transform="translate(437.9,63.46) scale(0.1,0.118)" font-size="31" fill="#111" stroke="#111" stroke-width="0.3">5%</text><rect x="445.2" y="61.06" width="1.26" height="2.2" fill="#4376bb"/><text transform="translate(437.9,67.75) scale(0.1,0.118)" font-size="31" fill="#111" stroke="#111" stroke-width="0.3">4%</text><rect x="445.2" y="65.36" width="1.01" height="2.2" fill="#4376bb"/><text transform="translate(437.9,72.04) scale(0.1,0.118)" font-size="31" fill="#111" stroke="#111" stroke-width="0.3">4%</text><rect x="445.2" y="69.64" width="1.01" height="2.2" fill="#4376bb"/><text transform="translate(437.9,76.33) scale(0.1,0.118)" font-size="31" fill="#111" stroke="#111" stroke-width="0.3">3%</text><rect x="445.2" y="73.94" width="0.76" height="2.2" fill="#4376bb"/><text transform="translate(437.9,80.62) scale(0.1,0.118)" font-size="31" fill="#111" stroke="#111" stroke-width="0.3">3%</text><rect x="445.2" y="78.23" width="0.76" height="2.2" fill="#4376bb"/><text transform="translate(437.9,84.91) scale(0.1,0.118)" font-size="31" fill="#111" stroke="#111" stroke-width="0.3">3%</text><rect x="445.2" y="82.52" width="0.76" height="2.2" fill="#ad0a18"/><text transform="translate(437.9,89.2) scale(0.1,0.118)" font-size="31" fill="#111" stroke="#111" stroke-width="0.3">3%</text><rect x="445.2" y="86.81" width="0.76" height="2.2" fill="#4376bb"/><text transform="translate(437.9,93.49) scale(0.1,0.118)" font-size="31" fill="#111" stroke="#111" stroke-width="0.3">3%</text><rect x="445.2" y="91.09" width="0.76" height="2.2" fill="#4376bb"/><text transform="translate(437.9,97.78) scale(0.1,0.118)" font-size="31" fill="#111" stroke="#111" stroke-width="0.3">2%</text><rect x="445.2" y="95.39" width="0.5" height="2.2" fill="#ad0a18"/><text transform="translate(437.9,102.08) scale(0.1,0.118)" font-size="31" fill="#111" stroke="#111" stroke-width="0.3">2%</text><rect x="445.2" y="99.68" width="0.5" height="2.2" fill="#5b7f34"/><text transform="translate(437.9,106.36) scale(0.1,0.118)" font-size="31" fill="#111" stroke="#111" stroke-width="0.3">2%</text><rect x="445.2" y="103.97" width="0.5" height="2.2" fill="#4376bb"/><text transform="translate(437.9,110.66) scale(0.1,0.118)" font-size="31" fill="#111" stroke="#111" stroke-width="0.3">2%</text><rect x="445.2" y="108.26" width="0.5" height="2.2" fill="#4376bb"/><text transform="translate(437.9,114.94) scale(0.1,0.118)" font-size="31" fill="#111" stroke="#111" stroke-width="0.3">2%</text><rect x="445.2" y="112.55" width="0.5" height="2.2" fill="#23238a"/><text transform="translate(437.9,119.23) scale(0.1,0.118)" font-size="31" fill="#111" stroke="#111" stroke-width="0.3">2%</text><rect x="445.2" y="116.84" width="0.5" height="2.2" fill="#ad0a18"/><text transform="translate(437.9,123.52) scale(0.1,0.118)" font-size="31" fill="#111" stroke="#111" stroke-width="0.3">1%</text><rect x="445.2" y="121.12" width="0.3" height="2.2" fill="#4376bb"/><text transform="translate(437.9,127.81) scale(0.1,0.118)" font-size="31" fill="#111" stroke="#111" stroke-width="0.3">1%</text><rect x="445.2" y="125.42" width="0.3" height="2.2" fill="#4376bb"/><text transform="translate(437.9,132.11) scale(0.1,0.118)" font-size="31" fill="#111" stroke="#111" stroke-width="0.3">1%</text><rect x="445.2" y="129.71" width="0.3" height="2.2" fill="#ad0a18"/><text transform="translate(437.9,136.4) scale(0.1,0.118)" font-size="31" fill="#111" stroke="#111" stroke-width="0.3">1%</text><rect x="445.2" y="134" width="0.3" height="2.2" fill="#4376bb"/><text transform="translate(437.9,140.69) scale(0.1,0.118)" font-size="31" fill="#111" stroke="#111" stroke-width="0.3">1%</text><rect x="445.2" y="138.29" width="0.3" height="2.2" fill="#4376bb"/><text transform="translate(437.9,144.98) scale(0.1,0.118)" font-size="31" fill="#111" stroke="#111" stroke-width="0.3">1%</text><rect x="445.2" y="142.58" width="0.3" height="2.2" fill="#4376bb"/><text transform="translate(437.9,149.27) scale(0.1,0.118)" font-size="31" fill="#111" stroke="#111" stroke-width="0.3">1%</text><rect x="445.2" y="146.87" width="0.3" height="2.2" fill="#ad0a18"/><text transform="translate(437.9,153.56) scale(0.1,0.118)" font-size="31" fill="#111" stroke="#111" stroke-width="0.3">1%</text><rect x="445.2" y="151.16" width="0.3" height="2.2" fill="#4376bb"/><text transform="translate(437.9,157.84) scale(0.1,0.118)" font-size="31" fill="#111" stroke="#111" stroke-width="0.3">1%</text><rect x="445.2" y="155.44" width="0.3" height="2.2" fill="#a9c7e8"/><text transform="translate(437.9,162.14) scale(0.1,0.118)" font-size="31" fill="#111" stroke="#111" stroke-width="0.3">1%</text><rect x="445.2" y="159.74" width="0.3" height="2.2" fill="#1c1c1c"/><text transform="translate(437.9,166.43) scale(0.1,0.118)" font-size="31" fill="#111" stroke="#111" stroke-width="0.3">1%</text><rect x="445.2" y="164.03" width="0.3" height="2.2" fill="#4376bb"/><text transform="translate(437.9,170.72) scale(0.1,0.118)" font-size="31" fill="#111" stroke="#111" stroke-width="0.3">1%</text><rect x="445.2" y="168.31" width="0.3" height="2.2" fill="#ad0a18"/><text transform="translate(437.9,175.01) scale(0.1,0.118)" font-size="31" fill="#111" stroke="#111" stroke-width="0.3">1%</text><rect x="445.2" y="172.61" width="0.3" height="2.2" fill="#4376bb"/><text transform="translate(437.9,179.3) scale(0.1,0.118)" font-size="31" fill="#111" stroke="#111" stroke-width="0.3">1%</text><rect x="445.2" y="176.9" width="0.3" height="2.2" fill="#4376bb"/><text transform="translate(437.9,183.59) scale(0.1,0.118)" font-size="31" fill="#111" stroke="#111" stroke-width="0.3">1%</text><rect x="445.2" y="181.19" width="0.3" height="2.2" fill="#a9c7e8"/><text transform="translate(437.9,187.88) scale(0.1,0.118)" font-size="31" fill="#111" stroke="#111" stroke-width="0.3">1%</text><rect x="445.2" y="185.47" width="0.3" height="2.2" fill="#4376bb"/><text transform="translate(437.9,192.17) scale(0.1,0.118)" font-size="31" fill="#111" stroke="#111" stroke-width="0.3">1%</text><rect x="445.2" y="189.77" width="0.3" height="2.2" fill="#ad0a18"/><text transform="translate(437.9,196.46) scale(0.1,0.118)" font-size="31" fill="#111" stroke="#111" stroke-width="0.3">1%</text><rect x="445.2" y="194.06" width="0.3" height="2.2" fill="#5b7f34"/><text transform="translate(437.9,200.75) scale(0.1,0.118)" font-size="31" fill="#111" stroke="#111" stroke-width="0.3">1%</text><rect x="445.2" y="198.34" width="0.3" height="2.2" fill="#4376bb"/><text transform="translate(437.9,205.04) scale(0.1,0.118)" font-size="31" fill="#111" stroke="#111" stroke-width="0.3">1%</text><rect x="445.2" y="202.64" width="0.3" height="2.2" fill="#a9c7e8"/><text transform="translate(437.9,209.33) scale(0.1,0.118)" font-size="31" fill="#111" stroke="#111" stroke-width="0.3">1%</text><rect x="445.2" y="206.93" width="0.3" height="2.2" fill="#4376bb"/><text transform="translate(437.9,213.62) scale(0.1,0.118)" font-size="31" fill="#111" stroke="#111" stroke-width="0.3">1%</text><rect x="445.2" y="211.22" width="0.3" height="2.2" fill="#4376bb"/><text transform="translate(437.9,217.91) scale(0.1,0.118)" font-size="31" fill="#111" stroke="#111" stroke-width="0.3">1%</text><rect x="445.2" y="215.5" width="0.3" height="2.2" fill="#ad0a18"/><text transform="translate(437.9,222.2) scale(0.1,0.118)" font-size="31" fill="#111" stroke="#111" stroke-width="0.3">1%</text><rect x="445.2" y="219.8" width="0.3" height="2.2" fill="#ad0a18"/><text transform="translate(437.9,227.24) scale(0.1,0.118)" font-size="31" fill="#111" stroke="#111" stroke-width="0.3">3%</text><rect x="445.2" y="224.84" width="0.76" height="2.2" fill="#23238a"/><text transform="translate(437.9,231.53) scale(0.1,0.118)" font-size="31" fill="#111" stroke="#111" stroke-width="0.3">2%</text><rect x="445.2" y="229.12" width="0.5" height="2.2" fill="#23238a"/><text transform="translate(437.9,235.82) scale(0.1,0.118)" font-size="31" fill="#111" stroke="#111" stroke-width="0.3">1%</text><rect x="445.2" y="233.42" width="0.3" height="2.2" fill="#c82424"/><text transform="translate(437.9,240.11) scale(0.1,0.118)" font-size="31" fill="#111" stroke="#111" stroke-width="0.3">1%</text><rect x="445.2" y="237.71" width="0.3" height="2.2" fill="#c82424"/><text transform="translate(437.9,244.4) scale(0.1,0.118)" font-size="31" fill="#111" stroke="#111" stroke-width="0.3">1%</text><rect x="445.2" y="242" width="0.3" height="2.2" fill="#c82424"/><text transform="translate(437.9,248.69) scale(0.1,0.118)" font-size="31" fill="#111" stroke="#111" stroke-width="0.3">1%</text><rect x="445.2" y="246.28" width="0.3" height="2.2" fill="#c82424"/><text transform="translate(437.9,252.98) scale(0.1,0.118)" font-size="31" fill="#111" stroke="#111" stroke-width="0.3">1%</text><rect x="445.2" y="250.58" width="0.3" height="2.2" fill="#23238a"/><text transform="translate(437.9,257.26) scale(0.1,0.118)" font-size="31" fill="#111" stroke="#111" stroke-width="0.3">1%</text><rect x="445.2" y="254.87" width="0.3" height="2.2" fill="#23238a"/><text transform="translate(437.9,261.56) scale(0.1,0.118)" font-size="31" fill="#111" stroke="#111" stroke-width="0.3">1%</text><rect x="445.2" y="259.15" width="0.3" height="2.2" fill="#23238a"/><text transform="translate(437.9,265.84) scale(0.1,0.118)" font-size="31" fill="#111" stroke="#111" stroke-width="0.3">1%</text><rect x="445.2" y="263.44" width="0.3" height="2.2" fill="#23238a"/><line x1="443.9" y1="25.5" x2="467.6" y2="25.5" stroke="#111" stroke-width="0.75"/><line x1="445.2" y1="25.5" x2="445.2" y2="24.5" stroke="#111" stroke-width="0.6"/><text transform="translate(445.2,22.6) scale(0.1,0.118)" font-size="30" text-anchor="middle" fill="#111" stroke="#111" stroke-width="0.3">0</text><line x1="450.24" y1="25.5" x2="450.24" y2="24.5" stroke="#111" stroke-width="0.6"/><text transform="translate(450.24,22.6) scale(0.1,0.118)" font-size="30" text-anchor="middle" fill="#111" stroke="#111" stroke-width="0.3">20</text><line x1="455.28" y1="25.5" x2="455.28" y2="24.5" stroke="#111" stroke-width="0.6"/><text transform="translate(455.28,22.6) scale(0.1,0.118)" font-size="30" text-anchor="middle" fill="#111" stroke="#111" stroke-width="0.3">40</text><line x1="460.32" y1="25.5" x2="460.32" y2="24.5" stroke="#111" stroke-width="0.6"/><text transform="translate(460.32,22.6) scale(0.1,0.118)" font-size="30" text-anchor="middle" fill="#111" stroke="#111" stroke-width="0.3">60</text><line x1="465.36" y1="25.5" x2="465.36" y2="24.5" stroke="#111" stroke-width="0.6"/><text transform="translate(465.36,22.6) scale(0.1,0.118)" font-size="30" text-anchor="middle" fill="#111" stroke="#111" stroke-width="0.3">80</text><rect x="55.95" y="21.22" width="2.17" height="2.41" fill="#4376bb"/><rect x="55.95" y="18.84" width="2.17" height="2.41" fill="#a9c7e8"/><rect x="55.95" y="16.46" width="2.17" height="2.41" fill="#5b7f34"/><rect x="59.41" y="18.84" width="2.17" height="4.79" fill="#4376bb"/><rect x="59.41" y="16.46" width="2.17" height="2.41" fill="#5b7f34"/><rect x="62.88" y="18.84" width="2.17" height="4.79" fill="#4376bb"/><rect x="62.88" y="16.46" width="2.17" height="2.41" fill="#1c1c1c"/><rect x="66.34" y="18.84" width="2.17" height="4.79" fill="#4376bb"/><rect x="66.34" y="16.46" width="2.17" height="2.41" fill="#a9c7e8"/><rect x="66.34" y="14.08" width="2.17" height="2.41" fill="#b90a17"/><rect x="69.81" y="16.46" width="2.17" height="7.17" fill="#4376bb"/><rect x="69.81" y="11.7" width="2.17" height="4.79" fill="#1c1c1c"/><rect x="73.28" y="16.46" width="2.17" height="7.17" fill="#4376bb"/><rect x="73.28" y="14.08" width="2.17" height="2.41" fill="#b90a17"/><rect x="76.74" y="16.46" width="2.17" height="7.17" fill="#4376bb"/><rect x="76.74" y="14.08" width="2.17" height="2.41" fill="#b90a17"/><rect x="80.2" y="18.84" width="2.17" height="4.79" fill="#4376bb"/><rect x="80.2" y="16.46" width="2.17" height="2.41" fill="#a9c7e8"/><rect x="80.2" y="14.08" width="2.17" height="2.41" fill="#5b7f34"/><rect x="80.2" y="11.7" width="2.17" height="2.41" fill="#b90a17"/><rect x="83.67" y="18.84" width="2.17" height="4.79" fill="#4376bb"/><rect x="83.67" y="16.46" width="2.17" height="2.41" fill="#1c1c1c"/><rect x="83.67" y="11.7" width="2.17" height="4.79" fill="#b90a17"/><rect x="87.14" y="21.22" width="2.17" height="2.41" fill="#4376bb"/><rect x="87.14" y="16.46" width="2.17" height="4.79" fill="#5b7f34"/><rect x="87.14" y="14.08" width="2.17" height="2.41" fill="#b90a17"/><rect x="90.6" y="18.84" width="2.17" height="4.79" fill="#4376bb"/><rect x="90.6" y="16.46" width="2.17" height="2.41" fill="#b90a17"/><rect x="94.06" y="18.84" width="2.17" height="4.79" fill="#4376bb"/><rect x="94.06" y="16.46" width="2.17" height="2.41" fill="#5b7f34"/><rect x="97.53" y="21.22" width="2.17" height="2.41" fill="#4376bb"/><rect x="97.53" y="18.84" width="2.17" height="2.41" fill="#b90a17"/><rect x="101" y="18.84" width="2.17" height="4.79" fill="#4376bb"/><rect x="104.46" y="18.84" width="2.17" height="4.79" fill="#4376bb"/><rect x="107.92" y="21.22" width="2.17" height="2.41" fill="#5b7f34"/><rect x="107.92" y="16.46" width="2.17" height="4.79" fill="#b90a17"/><rect x="111.39" y="18.84" width="2.17" height="4.79" fill="#4376bb"/><rect x="111.39" y="16.46" width="2.17" height="2.41" fill="#b90a17"/><rect x="114.86" y="16.46" width="2.17" height="7.17" fill="#4376bb"/><rect x="114.86" y="14.08" width="2.17" height="2.41" fill="#5b7f34"/><rect x="114.86" y="11.7" width="2.17" height="2.41" fill="#1c1c1c"/><rect x="114.86" y="9.32" width="2.17" height="2.41" fill="#b90a17"/><rect x="114.86" y="6.94" width="2.17" height="2.41" fill="#c82424"/><rect x="118.32" y="18.84" width="2.17" height="4.79" fill="#4376bb"/><rect x="118.32" y="16.46" width="2.17" height="2.41" fill="#23238a"/><rect x="121.78" y="21.22" width="2.17" height="2.41" fill="#4376bb"/><rect x="121.78" y="18.84" width="2.17" height="2.41" fill="#1c1c1c"/><rect x="125.25" y="21.22" width="2.17" height="2.41" fill="#4376bb"/><rect x="125.25" y="18.84" width="2.17" height="2.41" fill="#5b7f34"/><rect x="128.72" y="16.46" width="2.17" height="7.17" fill="#4376bb"/><rect x="128.72" y="14.08" width="2.17" height="2.41" fill="#1c1c1c"/><rect x="132.18" y="16.46" width="2.17" height="7.17" fill="#4376bb"/><rect x="132.18" y="14.08" width="2.17" height="2.41" fill="#b90a17"/><rect x="135.65" y="21.22" width="2.17" height="2.41" fill="#4376bb"/><rect x="135.65" y="18.84" width="2.17" height="2.41" fill="#a9c7e8"/><rect x="135.65" y="16.46" width="2.17" height="2.41" fill="#b90a17"/><rect x="139.11" y="21.22" width="2.17" height="2.41" fill="#4376bb"/><rect x="139.11" y="18.84" width="2.17" height="2.41" fill="#b90a17"/><rect x="142.58" y="18.84" width="2.17" height="4.79" fill="#4376bb"/><rect x="146.04" y="18.84" width="2.17" height="4.79" fill="#4376bb"/><rect x="149.5" y="16.46" width="2.17" height="7.17" fill="#4376bb"/><rect x="149.5" y="14.08" width="2.17" height="2.41" fill="#1c1c1c"/><rect x="149.5" y="9.32" width="2.17" height="4.79" fill="#b90a17"/><rect x="152.97" y="16.46" width="2.17" height="7.17" fill="#4376bb"/><rect x="152.97" y="14.08" width="2.17" height="2.41" fill="#1c1c1c"/><rect x="152.97" y="9.32" width="2.17" height="4.79" fill="#b90a17"/><rect x="156.44" y="21.22" width="2.17" height="2.41" fill="#4376bb"/><rect x="156.44" y="18.84" width="2.17" height="2.41" fill="#1c1c1c"/><rect x="159.9" y="21.22" width="2.17" height="2.41" fill="#4376bb"/><rect x="159.9" y="16.46" width="2.17" height="4.79" fill="#b90a17"/><rect x="163.36" y="21.22" width="2.17" height="2.41" fill="#4376bb"/><rect x="163.36" y="18.84" width="2.17" height="2.41" fill="#a9c7e8"/><rect x="166.83" y="18.84" width="2.17" height="4.79" fill="#4376bb"/><rect x="170.29" y="11.7" width="2.17" height="11.93" fill="#4376bb"/><rect x="170.29" y="9.32" width="2.17" height="2.41" fill="#5b7f34"/><rect x="173.76" y="18.84" width="2.17" height="4.79" fill="#4376bb"/><rect x="177.22" y="18.84" width="2.17" height="4.79" fill="#4376bb"/><rect x="180.69" y="18.84" width="2.17" height="4.79" fill="#4376bb"/><rect x="184.16" y="14.08" width="2.17" height="9.55" fill="#4376bb"/><rect x="187.62" y="16.46" width="2.17" height="7.17" fill="#4376bb"/><rect x="187.62" y="14.08" width="2.17" height="2.41" fill="#b90a17"/><rect x="191.09" y="21.22" width="2.17" height="2.41" fill="#4376bb"/><rect x="191.09" y="16.46" width="2.17" height="4.79" fill="#b90a17"/><rect x="194.55" y="18.84" width="2.17" height="4.79" fill="#4376bb"/><rect x="194.55" y="16.46" width="2.17" height="2.41" fill="#a9c7e8"/><rect x="198.02" y="18.84" width="2.17" height="4.79" fill="#4376bb"/><rect x="201.48" y="18.84" width="2.17" height="4.79" fill="#4376bb"/><rect x="201.48" y="16.46" width="2.17" height="2.41" fill="#23238a"/><rect x="204.95" y="21.22" width="2.17" height="2.41" fill="#4376bb"/><rect x="204.95" y="18.84" width="2.17" height="2.41" fill="#23238a"/><rect x="208.41" y="18.84" width="2.17" height="4.79" fill="#4376bb"/><rect x="211.87" y="21.22" width="2.17" height="2.41" fill="#4376bb"/><rect x="211.87" y="16.46" width="2.17" height="4.79" fill="#b90a17"/><rect x="215.34" y="21.22" width="2.17" height="2.41" fill="#4376bb"/><rect x="215.34" y="18.84" width="2.17" height="2.41" fill="#1c1c1c"/><rect x="218.8" y="21.22" width="2.17" height="2.41" fill="#4376bb"/><rect x="218.8" y="18.84" width="2.17" height="2.41" fill="#23238a"/><rect x="222.27" y="18.84" width="2.17" height="4.79" fill="#4376bb"/><rect x="225.73" y="18.84" width="2.17" height="4.79" fill="#4376bb"/><rect x="225.73" y="16.46" width="2.17" height="2.41" fill="#23238a"/><rect x="229.2" y="18.84" width="2.17" height="4.79" fill="#4376bb"/><rect x="232.66" y="21.22" width="2.17" height="2.41" fill="#4376bb"/><rect x="232.66" y="18.84" width="2.17" height="2.41" fill="#1c1c1c"/><rect x="236.13" y="21.22" width="2.17" height="2.41" fill="#4376bb"/><rect x="236.13" y="18.84" width="2.17" height="2.41" fill="#23238a"/><rect x="239.59" y="21.22" width="2.17" height="2.41" fill="#4376bb"/><rect x="243.06" y="21.22" width="2.17" height="2.41" fill="#4376bb"/><rect x="246.53" y="21.22" width="2.17" height="2.41" fill="#4376bb"/><rect x="249.99" y="21.22" width="2.17" height="2.41" fill="#4376bb"/><rect x="253.46" y="21.22" width="2.17" height="2.41" fill="#4376bb"/><rect x="253.46" y="18.84" width="2.17" height="2.41" fill="#23238a"/><rect x="256.92" y="21.22" width="2.17" height="2.41" fill="#4376bb"/><rect x="260.38" y="21.22" width="2.17" height="2.41" fill="#4376bb"/><rect x="263.85" y="21.22" width="2.17" height="2.41" fill="#4376bb"/><rect x="267.31" y="21.22" width="2.17" height="2.41" fill="#4376bb"/><rect x="270.78" y="21.22" width="2.17" height="2.41" fill="#4376bb"/><rect x="274.24" y="21.22" width="2.17" height="2.41" fill="#4376bb"/><rect x="277.71" y="21.22" width="2.17" height="2.41" fill="#4376bb"/><rect x="281.17" y="21.22" width="2.17" height="2.41" fill="#4376bb"/><rect x="284.64" y="21.22" width="2.17" height="2.41" fill="#4376bb"/><rect x="288.1" y="21.22" width="2.17" height="2.41" fill="#4376bb"/><rect x="291.57" y="21.22" width="2.17" height="2.41" fill="#4376bb"/><rect x="295.03" y="21.22" width="2.17" height="2.41" fill="#4376bb"/><rect x="298.5" y="21.22" width="2.17" height="2.41" fill="#4376bb"/><rect x="301.96" y="21.22" width="2.17" height="2.41" fill="#4376bb"/><rect x="305.43" y="21.22" width="2.17" height="2.41" fill="#4376bb"/><rect x="308.89" y="21.22" width="2.17" height="2.41" fill="#4376bb"/><rect x="312.36" y="21.22" width="2.17" height="2.41" fill="#4376bb"/><rect x="315.82" y="21.22" width="2.17" height="2.41" fill="#4376bb"/><rect x="319.29" y="21.22" width="2.17" height="2.41" fill="#4376bb"/><rect x="322.75" y="21.22" width="2.17" height="2.41" fill="#4376bb"/><rect x="326.22" y="21.22" width="2.17" height="2.41" fill="#4376bb"/><rect x="329.69" y="21.22" width="2.17" height="2.41" fill="#4376bb"/><rect x="333.15" y="21.22" width="2.17" height="2.41" fill="#4376bb"/><rect x="336.61" y="21.22" width="2.17" height="2.41" fill="#4376bb"/><rect x="340.08" y="21.22" width="2.17" height="2.41" fill="#4376bb"/><rect x="340.08" y="18.84" width="2.17" height="2.41" fill="#a9c7e8"/><rect x="340.08" y="14.08" width="2.17" height="4.79" fill="#b90a17"/><rect x="343.54" y="21.22" width="2.17" height="2.41" fill="#4376bb"/><rect x="343.54" y="14.08" width="2.17" height="7.17" fill="#b90a17"/><rect x="347.01" y="21.22" width="2.17" height="2.41" fill="#4376bb"/><rect x="347.01" y="14.08" width="2.17" height="7.17" fill="#b90a17"/><rect x="350.47" y="21.22" width="2.17" height="2.41" fill="#a9c7e8"/><rect x="350.47" y="16.46" width="2.17" height="4.79" fill="#b90a17"/><rect x="353.94" y="21.22" width="2.17" height="2.41" fill="#4376bb"/><rect x="353.94" y="18.84" width="2.17" height="2.41" fill="#b90a17"/><rect x="357.4" y="21.22" width="2.17" height="2.41" fill="#4376bb"/><rect x="357.4" y="18.84" width="2.17" height="2.41" fill="#b90a17"/><rect x="357.4" y="16.46" width="2.17" height="2.41" fill="#23238a"/><rect x="360.87" y="21.22" width="2.17" height="2.41" fill="#4376bb"/><rect x="360.87" y="18.84" width="2.17" height="2.41" fill="#b90a17"/><rect x="364.33" y="21.22" width="2.17" height="2.41" fill="#4376bb"/><rect x="364.33" y="18.84" width="2.17" height="2.41" fill="#a9c7e8"/><rect x="364.33" y="14.08" width="2.17" height="4.79" fill="#b90a17"/><rect x="367.8" y="21.22" width="2.17" height="2.41" fill="#4376bb"/><rect x="367.8" y="18.84" width="2.17" height="2.41" fill="#b90a17"/><rect x="371.26" y="21.22" width="2.17" height="2.41" fill="#b90a17"/><rect x="371.26" y="18.84" width="2.17" height="2.41" fill="#23238a"/><rect x="374.73" y="21.22" width="2.17" height="2.41" fill="#4376bb"/><rect x="374.73" y="18.84" width="2.17" height="2.41" fill="#b90a17"/><rect x="378.19" y="18.84" width="2.17" height="4.79" fill="#b90a17"/><rect x="381.66" y="21.22" width="2.17" height="2.41" fill="#b90a17"/><rect x="385.12" y="21.22" width="2.17" height="2.41" fill="#b90a17"/><rect x="388.59" y="21.22" width="2.17" height="2.41" fill="#b90a17"/><rect x="392.05" y="21.22" width="2.17" height="2.41" fill="#b90a17"/><rect x="395.52" y="21.22" width="2.17" height="2.41" fill="#b90a17"/><rect x="398.98" y="21.22" width="2.17" height="2.41" fill="#b90a17"/><rect x="402.45" y="21.22" width="2.17" height="2.41" fill="#b90a17"/><rect x="405.91" y="21.22" width="2.17" height="2.41" fill="#b90a17"/><rect x="409.38" y="16.46" width="2.17" height="7.17" fill="#4376bb"/><rect x="409.38" y="14.08" width="2.17" height="2.41" fill="#b90a17"/><rect x="412.84" y="21.22" width="2.17" height="2.41" fill="#4376bb"/><rect x="412.84" y="18.84" width="2.17" height="2.41" fill="#1c1c1c"/><rect x="416.31" y="18.84" width="2.17" height="4.79" fill="#4376bb"/><rect x="419.77" y="18.84" width="2.17" height="4.79" fill="#4376bb"/><rect x="423.24" y="21.22" width="2.17" height="2.41" fill="#4376bb"/><rect x="426.7" y="21.22" width="2.17" height="2.41" fill="#4376bb"/><line x1="55.3" y1="8.72" x2="55.3" y2="24.3" stroke="#000" stroke-width="0.9"/><line x1="53.9" y1="23.6" x2="55.3" y2="23.6" stroke="#111" stroke-width="0.6"/><text transform="translate(51.3,24.7) scale(0.1,0.118)" font-size="30" text-anchor="middle" fill="#111" stroke="#111" stroke-width="0.3">0</text><line x1="53.9" y1="18.84" x2="55.3" y2="18.84" stroke="#111" stroke-width="0.6"/><text transform="translate(51.3,19.94) scale(0.1,0.118)" font-size="30" text-anchor="middle" fill="#111" stroke="#111" stroke-width="0.3">2</text><line x1="53.9" y1="14.08" x2="55.3" y2="14.08" stroke="#111" stroke-width="0.6"/><text transform="translate(51.3,15.18) scale(0.1,0.118)" font-size="30" text-anchor="middle" fill="#111" stroke="#111" stroke-width="0.3">4</text><line x1="53.9" y1="9.32" x2="55.3" y2="9.32" stroke="#111" stroke-width="0.6"/><text transform="translate(51.3,10.42) scale(0.1,0.118)" font-size="30" text-anchor="middle" fill="#111" stroke="#111" stroke-width="0.3">6</text><rect x="55.3" y="267.4" width="3.76" height="8.4" fill="#c4282a"/><rect x="55.3" y="276.1" width="3.76" height="8.3" fill="#ecd5a9"/><rect x="58.77" y="267.4" width="3.76" height="8.4" fill="#e4834e"/><rect x="58.77" y="276.1" width="3.76" height="8.3" fill="#c9ddd9"/><rect x="62.23" y="267.4" width="3.76" height="8.4" fill="#9fc3e7"/><rect x="62.23" y="276.1" width="3.76" height="8.3" fill="#ecd5a9"/><rect x="65.69" y="267.4" width="3.76" height="8.4" fill="#9fc3e7"/><rect x="65.69" y="276.1" width="3.76" height="8.3" fill="#ecd5a9"/><rect x="69.16" y="267.4" width="3.76" height="8.4" fill="#e4834e"/><rect x="69.16" y="276.1" width="3.76" height="8.3" fill="#c9ddd9"/><rect x="72.62" y="267.4" width="3.76" height="8.4" fill="#9fc3e7"/><rect x="72.62" y="276.1" width="3.76" height="8.3" fill="#c9ddd9"/><rect x="76.09" y="267.4" width="3.76" height="8.4" fill="#e4834e"/><rect x="76.09" y="276.1" width="3.76" height="8.3" fill="#aca89b"/><rect x="79.55" y="267.4" width="3.76" height="8.4" fill="#e4834e"/><rect x="79.55" y="276.1" width="3.76" height="8.3" fill="#6b8a97"/><rect x="83.02" y="267.4" width="3.76" height="8.4" fill="#e4834e"/><rect x="83.02" y="276.1" width="3.76" height="8.3" fill="#6b8a97"/><rect x="86.48" y="267.4" width="3.76" height="8.4" fill="#c4282a"/><rect x="86.48" y="276.1" width="3.76" height="8.3" fill="#dde9c9"/><rect x="89.95" y="267.4" width="3.76" height="8.4" fill="#9fc3e7"/><rect x="89.95" y="276.1" width="3.76" height="8.3" fill="#6b8a97"/><rect x="93.41" y="267.4" width="3.76" height="8.4" fill="#e4834e"/><rect x="93.41" y="276.1" width="3.76" height="8.3" fill="#6b8a97"/><rect x="96.88" y="267.4" width="3.76" height="8.4" fill="#c4282a"/><rect x="96.88" y="276.1" width="3.76" height="8.3" fill="#ecd5a9"/><rect x="100.34" y="267.4" width="3.76" height="8.4" fill="#9fc3e7"/><rect x="100.34" y="276.1" width="3.76" height="8.3" fill="#ecd5a9"/><rect x="103.81" y="267.4" width="3.76" height="8.4" fill="#c4282a"/><rect x="103.81" y="276.1" width="3.76" height="8.3" fill="#ecd5a9"/><rect x="107.27" y="267.4" width="3.76" height="8.4" fill="#9fc3e7"/><rect x="107.27" y="276.1" width="3.76" height="8.3" fill="#dde9c9"/><rect x="110.74" y="267.4" width="3.76" height="8.4" fill="#e4834e"/><rect x="110.74" y="276.1" width="3.76" height="8.3" fill="#c9ddd9"/><rect x="114.2" y="267.4" width="3.76" height="8.4" fill="#c4282a"/><rect x="114.2" y="276.1" width="3.76" height="8.3" fill="#c9ddd9"/><rect x="117.67" y="267.4" width="3.76" height="8.4" fill="#c4282a"/><rect x="117.67" y="276.1" width="3.76" height="8.3" fill="#c9ddd9"/><rect x="121.13" y="267.4" width="3.76" height="8.4" fill="#c4282a"/><rect x="121.13" y="276.1" width="3.76" height="8.3" fill="#c9ddd9"/><rect x="124.6" y="267.4" width="3.76" height="8.4" fill="#c4282a"/><rect x="124.6" y="276.1" width="3.76" height="8.3" fill="#c9ddd9"/><rect x="128.06" y="267.4" width="3.76" height="8.4" fill="#9fc3e7"/><rect x="128.06" y="276.1" width="3.76" height="8.3" fill="#6b8a97"/><rect x="131.53" y="267.4" width="3.76" height="8.4" fill="#9fc3e7"/><rect x="131.53" y="276.1" width="3.76" height="8.3" fill="#6b8a97"/><rect x="135" y="267.4" width="3.76" height="8.4" fill="#9fc3e7"/><rect x="135" y="276.1" width="3.76" height="8.3" fill="#6b8a97"/><rect x="138.46" y="267.4" width="3.76" height="8.4" fill="#c4282a"/><rect x="138.46" y="276.1" width="3.76" height="8.3" fill="#aca89b"/><rect x="141.93" y="267.4" width="3.76" height="8.4" fill="#9fc3e7"/><rect x="141.93" y="276.1" width="3.76" height="8.3" fill="#ecd5a9"/><rect x="145.39" y="267.4" width="3.76" height="8.4" fill="#e4834e"/><rect x="145.39" y="276.1" width="3.76" height="8.3" fill="#ecd5a9"/><rect x="148.85" y="267.4" width="3.76" height="8.4" fill="#e4834e"/><rect x="148.85" y="276.1" width="3.76" height="8.3" fill="#6b8a97"/><rect x="152.32" y="267.4" width="3.76" height="8.4" fill="#9fc3e7"/><rect x="152.32" y="276.1" width="3.76" height="8.3" fill="#6b8a97"/><rect x="155.78" y="267.4" width="3.76" height="8.4" fill="#9fc3e7"/><rect x="155.78" y="276.1" width="3.76" height="8.3" fill="#6b8a97"/><rect x="159.25" y="267.4" width="3.76" height="8.4" fill="#c4282a"/><rect x="159.25" y="276.1" width="3.76" height="8.3" fill="#aca89b"/><rect x="162.71" y="267.4" width="3.76" height="8.4" fill="#9fc3e7"/><rect x="162.71" y="276.1" width="3.76" height="8.3" fill="#aca89b"/><rect x="166.18" y="267.4" width="3.76" height="8.4" fill="#c4282a"/><rect x="166.18" y="276.1" width="3.76" height="8.3" fill="#6b8a97"/><rect x="169.64" y="267.4" width="3.76" height="8.4" fill="#e4834e"/><rect x="169.64" y="276.1" width="3.76" height="8.3" fill="#6b8a97"/><rect x="173.11" y="267.4" width="3.76" height="8.4" fill="#9fc3e7"/><rect x="173.11" y="276.1" width="3.76" height="8.3" fill="#ecd5a9"/><rect x="176.57" y="267.4" width="3.76" height="8.4" fill="#9fc3e7"/><rect x="176.57" y="276.1" width="3.76" height="8.3" fill="#ecd5a9"/><rect x="180.04" y="267.4" width="3.76" height="8.4" fill="#9fc3e7"/><rect x="180.04" y="276.1" width="3.76" height="8.3" fill="#ecd5a9"/><rect x="183.5" y="267.4" width="3.76" height="8.4" fill="#9fc3e7"/><rect x="183.5" y="276.1" width="3.76" height="8.3" fill="#6b8a97"/><rect x="186.97" y="267.4" width="3.76" height="8.4" fill="#e4834e"/><rect x="186.97" y="276.1" width="3.76" height="8.3" fill="#6b8a97"/><rect x="190.44" y="267.4" width="3.76" height="8.4" fill="#c4282a"/><rect x="190.44" y="276.1" width="3.76" height="8.3" fill="#ecd5a9"/><rect x="193.9" y="267.4" width="3.76" height="8.4" fill="#9fc3e7"/><rect x="193.9" y="276.1" width="3.76" height="8.3" fill="#6b8a97"/><rect x="197.37" y="267.4" width="3.76" height="8.4" fill="#c4282a"/><rect x="197.37" y="276.1" width="3.76" height="8.3" fill="#6b8a97"/><rect x="200.83" y="267.4" width="3.76" height="8.4" fill="#c4282a"/><rect x="200.83" y="276.1" width="3.76" height="8.3" fill="#dde9c9"/><rect x="204.3" y="267.4" width="3.76" height="8.4" fill="#c4282a"/><rect x="204.3" y="276.1" width="3.76" height="8.3" fill="#dde9c9"/><rect x="207.76" y="267.4" width="3.76" height="8.4" fill="#c4282a"/><rect x="207.76" y="276.1" width="3.76" height="8.3" fill="#6b8a97"/><rect x="211.22" y="267.4" width="3.76" height="8.4" fill="#9fc3e7"/><rect x="211.22" y="276.1" width="3.76" height="8.3" fill="#ecd5a9"/><rect x="214.69" y="267.4" width="3.76" height="8.4" fill="#9fc3e7"/><rect x="214.69" y="276.1" width="3.76" height="8.3" fill="#ecd5a9"/><rect x="218.15" y="267.4" width="3.76" height="8.4" fill="#c4282a"/><rect x="218.15" y="276.1" width="3.76" height="8.3" fill="#ecd5a9"/><rect x="221.62" y="267.4" width="3.76" height="8.4" fill="#c4282a"/><rect x="221.62" y="276.1" width="3.76" height="8.3" fill="#ecd5a9"/><rect x="225.08" y="267.4" width="3.76" height="8.4" fill="#c4282a"/><rect x="225.08" y="276.1" width="3.76" height="8.3" fill="#c9ddd9"/><rect x="228.55" y="267.4" width="3.76" height="8.4" fill="#c4282a"/><rect x="228.55" y="276.1" width="3.76" height="8.3" fill="#aca89b"/><rect x="232.01" y="267.4" width="3.76" height="8.4" fill="#c4282a"/><rect x="232.01" y="276.1" width="3.76" height="8.3" fill="#ecd5a9"/><rect x="235.48" y="267.4" width="3.76" height="8.4" fill="#c4282a"/><rect x="235.48" y="276.1" width="3.76" height="8.3" fill="#dde9c9"/><rect x="238.94" y="267.4" width="3.76" height="8.4" fill="#e4834e"/><rect x="238.94" y="276.1" width="3.76" height="8.3" fill="#ecd5a9"/><rect x="242.41" y="267.4" width="3.76" height="8.4" fill="#9fc3e7"/><rect x="242.41" y="276.1" width="3.76" height="8.3" fill="#aca89b"/><rect x="245.88" y="267.4" width="3.76" height="8.4" fill="#c4282a"/><rect x="245.88" y="276.1" width="3.76" height="8.3" fill="#ecd5a9"/><rect x="249.34" y="267.4" width="3.76" height="8.4" fill="#c4282a"/><rect x="249.34" y="276.1" width="3.76" height="8.3" fill="#ecd5a9"/><rect x="252.81" y="267.4" width="3.76" height="8.4" fill="#9fc3e7"/><rect x="252.81" y="276.1" width="3.76" height="8.3" fill="#ecd5a9"/><rect x="256.27" y="267.4" width="3.76" height="8.4" fill="#9fc3e7"/><rect x="256.27" y="276.1" width="3.76" height="8.3" fill="#aca89b"/><rect x="259.74" y="267.4" width="3.76" height="8.4" fill="#9fc3e7"/><rect x="259.74" y="276.1" width="3.76" height="8.3" fill="#ecd5a9"/><rect x="263.2" y="267.4" width="3.76" height="8.4" fill="#9fc3e7"/><rect x="263.2" y="276.1" width="3.76" height="8.3" fill="#ecd5a9"/><rect x="266.66" y="267.4" width="3.76" height="8.4" fill="#e4834e"/><rect x="266.66" y="276.1" width="3.76" height="8.3" fill="#ecd5a9"/><rect x="270.13" y="267.4" width="3.76" height="8.4" fill="#9fc3e7"/><rect x="270.13" y="276.1" width="3.76" height="8.3" fill="#ecd5a9"/><rect x="273.59" y="267.4" width="3.76" height="8.4" fill="#9fc3e7"/><rect x="273.59" y="276.1" width="3.76" height="8.3" fill="#ecd5a9"/><rect x="277.06" y="267.4" width="3.76" height="8.4" fill="#9fc3e7"/><rect x="277.06" y="276.1" width="3.76" height="8.3" fill="#aca89b"/><rect x="280.52" y="267.4" width="3.76" height="8.4" fill="#c4282a"/><rect x="280.52" y="276.1" width="3.76" height="8.3" fill="#ecd5a9"/><rect x="283.99" y="267.4" width="3.76" height="8.4" fill="#c4282a"/><rect x="283.99" y="276.1" width="3.76" height="8.3" fill="#aca89b"/><rect x="287.45" y="267.4" width="3.76" height="8.4" fill="#e4834e"/><rect x="287.45" y="276.1" width="3.76" height="8.3" fill="#ecd5a9"/><rect x="290.92" y="267.4" width="3.76" height="8.4" fill="#9fc3e7"/><rect x="290.92" y="276.1" width="3.76" height="8.3" fill="#ecd5a9"/><rect x="294.38" y="267.4" width="3.76" height="8.4" fill="#9fc3e7"/><rect x="294.38" y="276.1" width="3.76" height="8.3" fill="#ecd5a9"/><rect x="297.85" y="267.4" width="3.76" height="8.4" fill="#c4282a"/><rect x="297.85" y="276.1" width="3.76" height="8.3" fill="#ecd5a9"/><rect x="301.31" y="267.4" width="3.76" height="8.4" fill="#e4834e"/><rect x="301.31" y="276.1" width="3.76" height="8.3" fill="#ecd5a9"/><rect x="304.78" y="267.4" width="3.76" height="8.4" fill="#9fc3e7"/><rect x="304.78" y="276.1" width="3.76" height="8.3" fill="#ecd5a9"/><rect x="308.25" y="267.4" width="3.76" height="8.4" fill="#9fc3e7"/><rect x="308.25" y="276.1" width="3.76" height="8.3" fill="#ecd5a9"/><rect x="311.71" y="267.4" width="3.76" height="8.4" fill="#9fc3e7"/><rect x="311.71" y="276.1" width="3.76" height="8.3" fill="#ecd5a9"/><rect x="315.18" y="267.4" width="3.76" height="8.4" fill="#e4834e"/><rect x="315.18" y="276.1" width="3.76" height="8.3" fill="#ecd5a9"/><rect x="318.64" y="267.4" width="3.76" height="8.4" fill="#e4834e"/><rect x="318.64" y="276.1" width="3.76" height="8.3" fill="#ecd5a9"/><rect x="322.11" y="267.4" width="3.76" height="8.4" fill="#9fc3e7"/><rect x="322.11" y="276.1" width="3.76" height="8.3" fill="#ecd5a9"/><rect x="325.57" y="267.4" width="3.76" height="8.4" fill="#e4834e"/><rect x="325.57" y="276.1" width="3.76" height="8.3" fill="#ecd5a9"/><rect x="329.04" y="267.4" width="3.76" height="8.4" fill="#c4282a"/><rect x="329.04" y="276.1" width="3.76" height="8.3" fill="#aca89b"/><rect x="332.5" y="267.4" width="3.76" height="8.4" fill="#9fc3e7"/><rect x="332.5" y="276.1" width="3.76" height="8.3" fill="#ecd5a9"/><rect x="335.96" y="267.4" width="3.76" height="8.4" fill="#e4834e"/><rect x="335.96" y="276.1" width="3.76" height="8.3" fill="#ecd5a9"/><rect x="339.43" y="267.4" width="3.76" height="8.4" fill="#9fc3e7"/><rect x="339.43" y="276.1" width="3.76" height="8.3" fill="#dde9c9"/><rect x="342.89" y="267.4" width="3.76" height="8.4" fill="#c4282a"/><rect x="342.89" y="276.1" width="3.76" height="8.3" fill="#6b8a97"/><rect x="346.36" y="267.4" width="3.76" height="8.4" fill="#e4834e"/><rect x="346.36" y="276.1" width="3.76" height="8.3" fill="#dde9c9"/><rect x="349.82" y="267.4" width="3.76" height="8.4" fill="#9fc3e7"/><rect x="349.82" y="276.1" width="3.76" height="8.3" fill="#dde9c9"/><rect x="353.29" y="267.4" width="3.76" height="8.4" fill="#9fc3e7"/><rect x="353.29" y="276.1" width="3.76" height="8.3" fill="#dde9c9"/><rect x="356.75" y="267.4" width="3.76" height="8.4" fill="#9fc3e7"/><rect x="356.75" y="276.1" width="3.76" height="8.3" fill="#c9ddd9"/><rect x="360.22" y="267.4" width="3.76" height="8.4" fill="#9fc3e7"/><rect x="360.22" y="276.1" width="3.76" height="8.3" fill="#c9ddd9"/><rect x="363.69" y="267.4" width="3.76" height="8.4" fill="#c4282a"/><rect x="363.69" y="276.1" width="3.76" height="8.3" fill="#6b8a97"/><rect x="367.15" y="267.4" width="3.76" height="8.4" fill="#c4282a"/><rect x="367.15" y="276.1" width="3.76" height="8.3" fill="#6b8a97"/><rect x="370.62" y="267.4" width="3.76" height="8.4" fill="#e4834e"/><rect x="370.62" y="276.1" width="3.76" height="8.3" fill="#dde9c9"/><rect x="374.08" y="267.4" width="3.76" height="8.4" fill="#9fc3e7"/><rect x="374.08" y="276.1" width="3.76" height="8.3" fill="#6b8a97"/><rect x="377.55" y="267.4" width="3.76" height="8.4" fill="#9fc3e7"/><rect x="377.55" y="276.1" width="3.76" height="8.3" fill="#dde9c9"/><rect x="381.01" y="267.4" width="3.76" height="8.4" fill="#9fc3e7"/><rect x="381.01" y="276.1" width="3.76" height="8.3" fill="#dde9c9"/><rect x="384.48" y="267.4" width="3.76" height="8.4" fill="#c4282a"/><rect x="384.48" y="276.1" width="3.76" height="8.3" fill="#dde9c9"/><rect x="387.94" y="267.4" width="3.76" height="8.4" fill="#9fc3e7"/><rect x="387.94" y="276.1" width="3.76" height="8.3" fill="#dde9c9"/><rect x="391.4" y="267.4" width="3.76" height="8.4" fill="#9fc3e7"/><rect x="391.4" y="276.1" width="3.76" height="8.3" fill="#dde9c9"/><rect x="394.87" y="267.4" width="3.76" height="8.4" fill="#9fc3e7"/><rect x="394.87" y="276.1" width="3.76" height="8.3" fill="#dde9c9"/><rect x="398.33" y="267.4" width="3.76" height="8.4" fill="#9fc3e7"/><rect x="398.33" y="276.1" width="3.76" height="8.3" fill="#dde9c9"/><rect x="401.8" y="267.4" width="3.76" height="8.4" fill="#9fc3e7"/><rect x="401.8" y="276.1" width="3.76" height="8.3" fill="#dde9c9"/><rect x="405.26" y="267.4" width="3.76" height="8.4" fill="#9fc3e7"/><rect x="405.26" y="276.1" width="3.76" height="8.3" fill="#dde9c9"/><rect x="408.73" y="267.4" width="3.76" height="8.4" fill="#e4834e"/><rect x="408.73" y="276.1" width="3.76" height="8.3" fill="#f3cc73"/><rect x="412.19" y="267.4" width="3.76" height="8.4" fill="#c4282a"/><rect x="412.19" y="276.1" width="3.76" height="8.3" fill="#6b8a97"/><rect x="415.66" y="267.4" width="3.76" height="8.4" fill="#9fc3e7"/><rect x="415.66" y="276.1" width="3.76" height="8.3" fill="#6b8a97"/><rect x="419.12" y="267.4" width="3.76" height="8.4" fill="#c4282a"/><rect x="419.12" y="276.1" width="3.76" height="8.3" fill="#cdcdcd"/><rect x="422.59" y="267.4" width="3.76" height="8.4" fill="#c4282a"/><rect x="422.59" y="276.1" width="3.76" height="8.3" fill="#cdcdcd"/><rect x="426.06" y="267.4" width="3.76" height="8.4" fill="#9fc3e7"/><rect x="426.06" y="276.1" width="3.76" height="8.3" fill="#6b8a97"/><rect x="429.52" y="267.4" width="3.76" height="8.4" fill="#9fc3e7"/><rect x="429.52" y="276.1" width="3.76" height="8.3" fill="#666666"/><rect x="432.99" y="267.4" width="3.76" height="8.4" fill="#e4834e"/><rect x="432.99" y="276.1" width="3.76" height="8.3" fill="#666666"/><rect x="55.05" y="267.4" width="0.5" height="17" fill="#000" fill-opacity="0.2"/><rect x="58.52" y="267.4" width="0.5" height="17" fill="#000" fill-opacity="0.2"/><rect x="61.98" y="267.4" width="0.5" height="17" fill="#000" fill-opacity="0.2"/><rect x="65.44" y="267.4" width="0.5" height="17" fill="#000" fill-opacity="0.2"/><rect x="68.91" y="267.4" width="0.5" height="17" fill="#000" fill-opacity="0.2"/><rect x="72.38" y="267.4" width="0.5" height="17" fill="#000" fill-opacity="0.2"/><rect x="75.84" y="267.4" width="0.5" height="17" fill="#000" fill-opacity="0.2"/><rect x="79.3" y="267.4" width="0.5" height="17" fill="#000" fill-opacity="0.2"/><rect x="82.77" y="267.4" width="0.5" height="17" fill="#000" fill-opacity="0.2"/><rect x="86.23" y="267.4" width="0.5" height="17" fill="#000" fill-opacity="0.2"/><rect x="89.7" y="267.4" width="0.5" height="17" fill="#000" fill-opacity="0.2"/><rect x="93.16" y="267.4" width="0.5" height="17" fill="#000" fill-opacity="0.2"/><rect x="96.63" y="267.4" width="0.5" height="17" fill="#000" fill-opacity="0.2"/><rect x="100.09" y="267.4" width="0.5" height="17" fill="#000" fill-opacity="0.2"/><rect x="103.56" y="267.4" width="0.5" height="17" fill="#000" fill-opacity="0.2"/><rect x="107.02" y="267.4" width="0.5" height="17" fill="#000" fill-opacity="0.2"/><rect x="110.49" y="267.4" width="0.5" height="17" fill="#000" fill-opacity="0.2"/><rect x="113.95" y="267.4" width="0.5" height="17" fill="#000" fill-opacity="0.2"/><rect x="117.42" y="267.4" width="0.5" height="17" fill="#000" fill-opacity="0.2"/><rect x="120.88" y="267.4" width="0.5" height="17" fill="#000" fill-opacity="0.2"/><rect x="124.35" y="267.4" width="0.5" height="17" fill="#000" fill-opacity="0.2"/><rect x="127.81" y="267.4" width="0.5" height="17" fill="#000" fill-opacity="0.2"/><rect x="131.28" y="267.4" width="0.5" height="17" fill="#000" fill-opacity="0.2"/><rect x="134.75" y="267.4" width="0.5" height="17" fill="#000" fill-opacity="0.2"/><rect x="138.21" y="267.4" width="0.5" height="17" fill="#000" fill-opacity="0.2"/><rect x="141.68" y="267.4" width="0.5" height="17" fill="#000" fill-opacity="0.2"/><rect x="145.14" y="267.4" width="0.5" height="17" fill="#000" fill-opacity="0.2"/><rect x="148.6" y="267.4" width="0.5" height="17" fill="#000" fill-opacity="0.2"/><rect x="152.07" y="267.4" width="0.5" height="17" fill="#000" fill-opacity="0.2"/><rect x="155.53" y="267.4" width="0.5" height="17" fill="#000" fill-opacity="0.2"/><rect x="159" y="267.4" width="0.5" height="17" fill="#000" fill-opacity="0.2"/><rect x="162.46" y="267.4" width="0.5" height="17" fill="#000" fill-opacity="0.2"/><rect x="165.93" y="267.4" width="0.5" height="17" fill="#000" fill-opacity="0.2"/><rect x="169.39" y="267.4" width="0.5" height="17" fill="#000" fill-opacity="0.2"/><rect x="172.86" y="267.4" width="0.5" height="17" fill="#000" fill-opacity="0.2"/><rect x="176.32" y="267.4" width="0.5" height="17" fill="#000" fill-opacity="0.2"/><rect x="179.79" y="267.4" width="0.5" height="17" fill="#000" fill-opacity="0.2"/><rect x="183.25" y="267.4" width="0.5" height="17" fill="#000" fill-opacity="0.2"/><rect x="186.72" y="267.4" width="0.5" height="17" fill="#000" fill-opacity="0.2"/><rect x="190.19" y="267.4" width="0.5" height="17" fill="#000" fill-opacity="0.2"/><rect x="193.65" y="267.4" width="0.5" height="17" fill="#000" fill-opacity="0.2"/><rect x="197.12" y="267.4" width="0.5" height="17" fill="#000" fill-opacity="0.2"/><rect x="200.58" y="267.4" width="0.5" height="17" fill="#000" fill-opacity="0.2"/><rect x="204.05" y="267.4" width="0.5" height="17" fill="#000" fill-opacity="0.2"/><rect x="207.51" y="267.4" width="0.5" height="17" fill="#000" fill-opacity="0.2"/><rect x="210.97" y="267.4" width="0.5" height="17" fill="#000" fill-opacity="0.2"/><rect x="214.44" y="267.4" width="0.5" height="17" fill="#000" fill-opacity="0.2"/><rect x="217.9" y="267.4" width="0.5" height="17" fill="#000" fill-opacity="0.2"/><rect x="221.37" y="267.4" width="0.5" height="17" fill="#000" fill-opacity="0.2"/><rect x="224.83" y="267.4" width="0.5" height="17" fill="#000" fill-opacity="0.2"/><rect x="228.3" y="267.4" width="0.5" height="17" fill="#000" fill-opacity="0.2"/><rect x="231.76" y="267.4" width="0.5" height="17" fill="#000" fill-opacity="0.2"/><rect x="235.23" y="267.4" width="0.5" height="17" fill="#000" fill-opacity="0.2"/><rect x="238.69" y="267.4" width="0.5" height="17" fill="#000" fill-opacity="0.2"/><rect x="242.16" y="267.4" width="0.5" height="17" fill="#000" fill-opacity="0.2"/><rect x="245.62" y="267.4" width="0.5" height="17" fill="#000" fill-opacity="0.2"/><rect x="249.09" y="267.4" width="0.5" height="17" fill="#000" fill-opacity="0.2"/><rect x="252.56" y="267.4" width="0.5" height="17" fill="#000" fill-opacity="0.2"/><rect x="256.02" y="267.4" width="0.5" height="17" fill="#000" fill-opacity="0.2"/><rect x="259.49" y="267.4" width="0.5" height="17" fill="#000" fill-opacity="0.2"/><rect x="262.95" y="267.4" width="0.5" height="17" fill="#000" fill-opacity="0.2"/><rect x="266.41" y="267.4" width="0.5" height="17" fill="#000" fill-opacity="0.2"/><rect x="269.88" y="267.4" width="0.5" height="17" fill="#000" fill-opacity="0.2"/><rect x="273.34" y="267.4" width="0.5" height="17" fill="#000" fill-opacity="0.2"/><rect x="276.81" y="267.4" width="0.5" height="17" fill="#000" fill-opacity="0.2"/><rect x="280.27" y="267.4" width="0.5" height="17" fill="#000" fill-opacity="0.2"/><rect x="283.74" y="267.4" width="0.5" height="17" fill="#000" fill-opacity="0.2"/><rect x="287.2" y="267.4" width="0.5" height="17" fill="#000" fill-opacity="0.2"/><rect x="290.67" y="267.4" width="0.5" height="17" fill="#000" fill-opacity="0.2"/><rect x="294.13" y="267.4" width="0.5" height="17" fill="#000" fill-opacity="0.2"/><rect x="297.6" y="267.4" width="0.5" height="17" fill="#000" fill-opacity="0.2"/><rect x="301.06" y="267.4" width="0.5" height="17" fill="#000" fill-opacity="0.2"/><rect x="304.53" y="267.4" width="0.5" height="17" fill="#000" fill-opacity="0.2"/><rect x="308" y="267.4" width="0.5" height="17" fill="#000" fill-opacity="0.2"/><rect x="311.46" y="267.4" width="0.5" height="17" fill="#000" fill-opacity="0.2"/><rect x="314.93" y="267.4" width="0.5" height="17" fill="#000" fill-opacity="0.2"/><rect x="318.39" y="267.4" width="0.5" height="17" fill="#000" fill-opacity="0.2"/><rect x="321.86" y="267.4" width="0.5" height="17" fill="#000" fill-opacity="0.2"/><rect x="325.32" y="267.4" width="0.5" height="17" fill="#000" fill-opacity="0.2"/><rect x="328.79" y="267.4" width="0.5" height="17" fill="#000" fill-opacity="0.2"/><rect x="332.25" y="267.4" width="0.5" height="17" fill="#000" fill-opacity="0.2"/><rect x="335.71" y="267.4" width="0.5" height="17" fill="#000" fill-opacity="0.2"/><rect x="339.18" y="267.4" width="0.5" height="17" fill="#000" fill-opacity="0.2"/><rect x="342.64" y="267.4" width="0.5" height="17" fill="#000" fill-opacity="0.2"/><rect x="346.11" y="267.4" width="0.5" height="17" fill="#000" fill-opacity="0.2"/><rect x="349.57" y="267.4" width="0.5" height="17" fill="#000" fill-opacity="0.2"/><rect x="353.04" y="267.4" width="0.5" height="17" fill="#000" fill-opacity="0.2"/><rect x="356.5" y="267.4" width="0.5" height="17" fill="#000" fill-opacity="0.2"/><rect x="359.97" y="267.4" width="0.5" height="17" fill="#000" fill-opacity="0.2"/><rect x="363.44" y="267.4" width="0.5" height="17" fill="#000" fill-opacity="0.2"/><rect x="366.9" y="267.4" width="0.5" height="17" fill="#000" fill-opacity="0.2"/><rect x="370.37" y="267.4" width="0.5" height="17" fill="#000" fill-opacity="0.2"/><rect x="373.83" y="267.4" width="0.5" height="17" fill="#000" fill-opacity="0.2"/><rect x="377.3" y="267.4" width="0.5" height="17" fill="#000" fill-opacity="0.2"/><rect x="380.76" y="267.4" width="0.5" height="17" fill="#000" fill-opacity="0.2"/><rect x="384.23" y="267.4" width="0.5" height="17" fill="#000" fill-opacity="0.2"/><rect x="387.69" y="267.4" width="0.5" height="17" fill="#000" fill-opacity="0.2"/><rect x="391.15" y="267.4" width="0.5" height="17" fill="#000" fill-opacity="0.2"/><rect x="394.62" y="267.4" width="0.5" height="17" fill="#000" fill-opacity="0.2"/><rect x="398.08" y="267.4" width="0.5" height="17" fill="#000" fill-opacity="0.2"/><rect x="401.55" y="267.4" width="0.5" height="17" fill="#000" fill-opacity="0.2"/><rect x="405.01" y="267.4" width="0.5" height="17" fill="#000" fill-opacity="0.2"/><rect x="408.48" y="267.4" width="0.5" height="17" fill="#000" fill-opacity="0.2"/><rect x="411.94" y="267.4" width="0.5" height="17" fill="#000" fill-opacity="0.2"/><rect x="415.41" y="267.4" width="0.5" height="17" fill="#000" fill-opacity="0.2"/><rect x="418.88" y="267.4" width="0.5" height="17" fill="#000" fill-opacity="0.2"/><rect x="422.34" y="267.4" width="0.5" height="17" fill="#000" fill-opacity="0.2"/><rect x="425.81" y="267.4" width="0.5" height="17" fill="#000" fill-opacity="0.2"/><rect x="429.27" y="267.4" width="0.5" height="17" fill="#000" fill-opacity="0.2"/><rect x="432.74" y="267.4" width="0.5" height="17" fill="#000" fill-opacity="0.2"/><rect x="436.2" y="267.4" width="0.5" height="17" fill="#000" fill-opacity="0.2"/><text transform="translate(50,273.2) scale(0.1,0.118)" font-size="32" text-anchor="end" fill="#2b2b8c" stroke="#2b2b8c" stroke-width="0.3">Response</text><text transform="translate(50,281.8) scale(0.1,0.118)" font-size="33" text-anchor="end" fill="#2b2b8c" stroke="#2b2b8c" stroke-width="0.3">J Grinfeld et al. Classification</text><text transform="translate(31.9,124.4) rotate(-90) scale(0.1)" font-size="33.7" text-anchor="middle" fill="#2b2b8c" stroke="#2b2b8c" stroke-width="0.3">Substitutions/indels</text><text transform="translate(27.4,245.5) rotate(-90) scale(0.1)" font-size="33.5" text-anchor="middle" fill="#2b2b8c" stroke="#2b2b8c" stroke-width="0.3">CNAs</text><text transform="translate(143,292.6) scale(0.1,0.118)" font-size="31.2" font-weight="bold" fill="#111" stroke="#111" stroke-width="0.3">Response</text><text transform="translate(168.6,292.6) scale(0.1,0.118)" font-size="31.2" font-weight="bold" fill="#111" stroke="#111" stroke-width="0.3">J Grinfeld et al. Classification</text><rect x="143" y="295.0" width="8.3" height="8.2" fill="#9fc3e7"/><text transform="translate(154,300.3) scale(0.1,0.118)" font-size="33" fill="#111" stroke="#111" stroke-width="0.3">CR</text><rect x="143" y="303.6" width="8.3" height="8.2" fill="#e4834e"/><text transform="translate(154,308.9) scale(0.1,0.118)" font-size="33" fill="#111" stroke="#111" stroke-width="0.3">PR</text><rect x="143" y="312.2" width="8.3" height="8.2" fill="#c4282a"/><text transform="translate(154,317.5) scale(0.1,0.118)" font-size="33" fill="#111" stroke="#111" stroke-width="0.3">NR</text><rect x="168.5" y="295.0" width="8.3" height="8.2" fill="#c9ddd9"/><text transform="translate(180,300.3) scale(0.1,0.118)" font-size="33" fill="#111" stroke="#111" stroke-width="0.3">TP53 mutation</text><rect x="168.5" y="303.6" width="8.3" height="8.2" fill="#6b8a97"/><text transform="translate(180,308.9) scale(0.1,0.118)" font-size="33" fill="#111" stroke="#111" stroke-width="0.3">Chromatin/Spliceosome/RAS mutation</text><rect x="168.5" y="312.2" width="8.3" height="8.2" fill="#dde9c9"/><text transform="translate(180,317.5) scale(0.1,0.118)" font-size="33" fill="#111" stroke="#111" stroke-width="0.3">CALR mutation</text><rect x="246.3" y="295.0" width="8.3" height="8.2" fill="#f3cc73"/><text transform="translate(257.7,300.3) scale(0.1,0.118)" font-size="33" fill="#111" stroke="#111" stroke-width="0.3">MPL mutation</text><rect x="246.3" y="303.6" width="8.3" height="8.2" fill="#aca89b"/><text transform="translate(257.7,308.9) scale(0.1,0.118)" font-size="33" fill="#111" stroke="#111" stroke-width="0.3">Homozygous JAK2/NFE2 mutation</text><rect x="246.3" y="312.2" width="8.3" height="8.2" fill="#ecd5a9"/><text transform="translate(257.7,317.5) scale(0.1,0.118)" font-size="33" fill="#111" stroke="#111" stroke-width="0.3">Heterozygous JAK2</text><rect x="318.1" y="295.0" width="8.3" height="8.2" fill="#cdcdcd"/><text transform="translate(329.5,300.3) scale(0.1,0.118)" font-size="33" fill="#111" stroke="#111" stroke-width="0.3">Other drivers</text><rect x="318.1" y="303.6" width="8.3" height="8.2" fill="#666666"/><text transform="translate(329.5,308.9) scale(0.1,0.118)" font-size="33" fill="#111" stroke="#111" stroke-width="0.3">No drivers</text><text transform="translate(470.6,110.6) scale(0.1,0.118)" font-size="33.5" font-weight="bold" fill="#111" stroke="#111" stroke-width="0.3">Alterations</text><rect x="470.6" y="113.1" width="8.4" height="8.4" fill="#4376bb"/><text transform="translate(482,118.5) scale(0.1,0.118)" font-size="33" fill="#111" stroke="#111" stroke-width="0.3">Missense</text><rect x="470.6" y="121.7" width="8.4" height="8.4" fill="#a9c7e8"/><text transform="translate(482,127.1) scale(0.1,0.118)" font-size="33" fill="#111" stroke="#111" stroke-width="0.3">Inframe indel</text><rect x="470.6" y="130.4" width="8.4" height="8.4" fill="#1c1c1c"/><text transform="translate(482,135.8) scale(0.1,0.118)" font-size="33" fill="#111" stroke="#111" stroke-width="0.3">Stop gain</text><rect x="470.6" y="139.1" width="8.4" height="8.4" fill="#ad0a18"/><text transform="translate(482,144.5) scale(0.1,0.118)" font-size="33" fill="#111" stroke="#111" stroke-width="0.3">Frameshift indel</text><rect x="470.6" y="147.8" width="8.4" height="8.4" fill="#5b7f34"/><text transform="translate(482,153.2) scale(0.1,0.118)" font-size="33" fill="#111" stroke="#111" stroke-width="0.3">Splicing variant</text><rect x="470.6" y="156.5" width="8.4" height="8.4" fill="#c82424"/><text transform="translate(482,161.9) scale(0.1,0.118)" font-size="33" fill="#111" stroke="#111" stroke-width="0.3">Amplification (CNAs)</text><rect x="470.6" y="165.2" width="8.4" height="8.4" fill="#23238a"/><text transform="translate(482,170.6) scale(0.1,0.118)" font-size="33" fill="#111" stroke="#111" stroke-width="0.3">Deletion (CNAs)</text><circle cx="475.1" cy="178.9" r="2.45" fill="#e8dcf0" stroke="#bdb0c0" stroke-width="0.5"/><text transform="translate(482,180.1) scale(0.1,0.118)" font-size="33" fill="#111" stroke="#111" stroke-width="0.3">more SNV(s) present</text><rect x="0.5" y="0.5" width="519" height="327" fill="none" stroke="#000" stroke-width="1.1"/><defs></defs></svg></body></html>
